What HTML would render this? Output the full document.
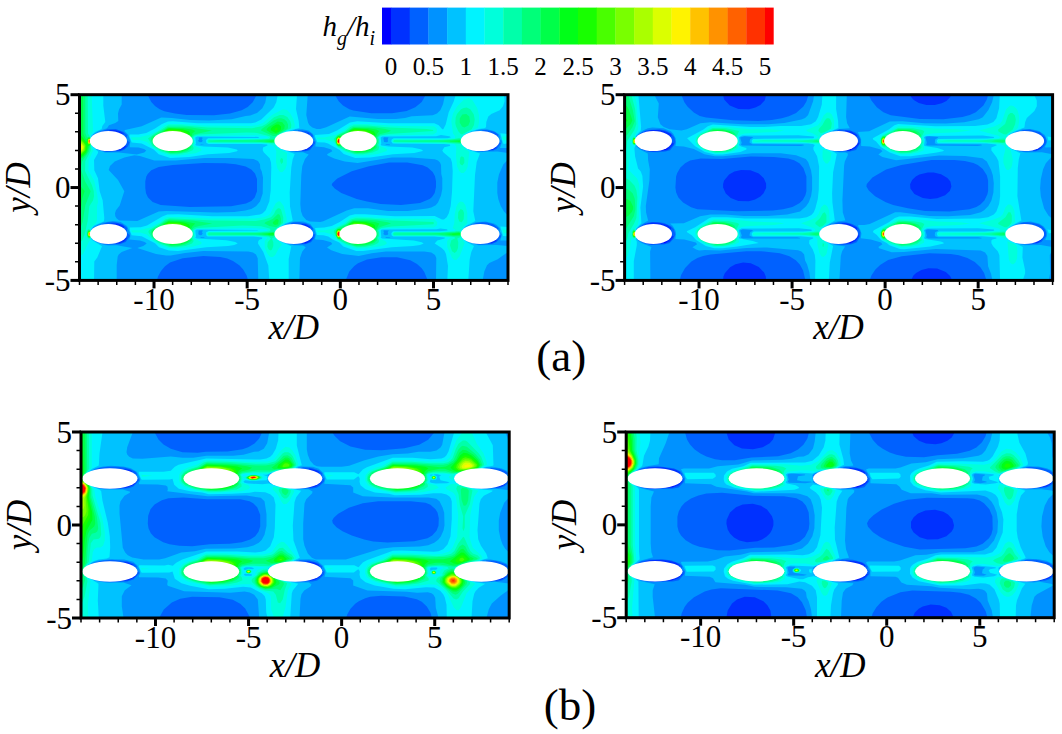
<!DOCTYPE html>
<html><head><meta charset="utf-8"><style>html,body{margin:0;padding:0;background:#fff;width:1062px;height:734px;overflow:hidden}svg{display:block}</style></head>
<body><svg width="1062" height="734" viewBox="0 0 1062 734" font-family="'Liberation Serif', serif">
<rect x="382.00" y="7.60" width="9.30" height="36.90" fill="#0000ff"/>
<rect x="391.00" y="7.60" width="19.00" height="36.90" fill="#0031ff"/>
<rect x="409.70" y="7.60" width="19.00" height="36.90" fill="#0061ff"/>
<rect x="428.40" y="7.60" width="19.00" height="36.90" fill="#0092ff"/>
<rect x="447.10" y="7.60" width="19.00" height="36.90" fill="#00c2ff"/>
<rect x="465.80" y="7.60" width="19.00" height="36.90" fill="#00f3ff"/>
<rect x="484.50" y="7.60" width="19.00" height="36.90" fill="#00ffdb"/>
<rect x="503.20" y="7.60" width="19.00" height="36.90" fill="#00ffaa"/>
<rect x="521.90" y="7.60" width="19.00" height="36.90" fill="#00ff79"/>
<rect x="540.60" y="7.60" width="19.00" height="36.90" fill="#00ff49"/>
<rect x="559.30" y="7.60" width="19.00" height="36.90" fill="#00ff18"/>
<rect x="578.00" y="7.60" width="19.00" height="36.90" fill="#18ff00"/>
<rect x="596.70" y="7.60" width="19.00" height="36.90" fill="#49ff00"/>
<rect x="615.40" y="7.60" width="19.00" height="36.90" fill="#79ff00"/>
<rect x="634.10" y="7.60" width="19.00" height="36.90" fill="#aaff00"/>
<rect x="652.80" y="7.60" width="19.00" height="36.90" fill="#dbff00"/>
<rect x="671.50" y="7.60" width="19.00" height="36.90" fill="#fff300"/>
<rect x="690.20" y="7.60" width="19.00" height="36.90" fill="#ffc200"/>
<rect x="708.90" y="7.60" width="19.00" height="36.90" fill="#ff9200"/>
<rect x="727.60" y="7.60" width="19.00" height="36.90" fill="#ff6100"/>
<rect x="746.30" y="7.60" width="19.00" height="36.90" fill="#ff3100"/>
<rect x="765.00" y="7.60" width="8.70" height="36.90" fill="#ff0000"/>
<text x="391.0" y="75" text-anchor="middle" font-size="25">0</text>
<text x="428.4" y="75" text-anchor="middle" font-size="25">0.5</text>
<text x="465.8" y="75" text-anchor="middle" font-size="25">1</text>
<text x="503.2" y="75" text-anchor="middle" font-size="25">1.5</text>
<text x="540.6" y="75" text-anchor="middle" font-size="25">2</text>
<text x="578.0" y="75" text-anchor="middle" font-size="25">2.5</text>
<text x="615.4" y="75" text-anchor="middle" font-size="25">3</text>
<text x="652.8" y="75" text-anchor="middle" font-size="25">3.5</text>
<text x="690.2" y="75" text-anchor="middle" font-size="25">4</text>
<text x="727.6" y="75" text-anchor="middle" font-size="25">4.5</text>
<text x="765.0" y="75" text-anchor="middle" font-size="25">5</text>
<text x="322.5" y="36.3" font-size="29" font-style="italic">h<tspan font-size="20" dy="9">g</tspan><tspan dy="-9">/h</tspan><tspan font-size="20" dy="9">i</tspan></text>
<rect x="79.50" y="94.70" width="428.50" height="185.70" fill="#0000ff"/>
<path fill-rule="evenodd" fill="#0031ff" d="M79.7 94.9 79.7 280.2 508.0 280.2 508.0 94.9ZM304.3 242.2 305.3 241.2 307.3 241.5 305.7 242.5Z"/>
<path fill-rule="evenodd" fill="#0061ff" d="M79.7 94.9 79.7 280.2 508.0 280.2 508.0 94.9ZM488.0 242.9 488.7 240.9 491.0 239.2 497.0 239.5 496.0 241.2 491.7 243.2ZM127.0 238.2 124.3 241.5 119.3 243.5 114.3 243.2 115.7 240.5 119.0 237.9 123.7 237.5ZM313.0 237.9 310.7 240.9 307.3 242.9 305.0 243.5 300.3 243.2 301.3 240.2 304.3 237.5 309.0 236.5ZM300.7 223.9 305.7 224.2 310.3 226.9 308.0 228.9 306.0 229.2ZM111.0 223.5 118.0 223.5 122.0 224.9 124.7 226.9 121.7 228.9 119.0 228.9 114.0 226.5ZM489.0 149.9 489.3 148.2 491.0 146.9 496.7 147.2 493.0 149.9ZM115.0 150.2 116.0 148.2 118.7 145.9 126.7 145.9 124.3 148.5 120.0 150.5ZM313.0 145.2 308.3 149.5 305.3 150.5 301.7 150.2 302.3 147.5 304.7 145.5 309.0 144.5ZM307.0 132.9 308.0 132.5 309.3 133.5 308.3 133.9ZM109.0 130.5 109.7 129.9 115.0 129.9 120.0 131.2 124.0 133.5 120.3 134.2Z"/>
<path fill-rule="evenodd" fill="#0092ff" d="M79.7 94.9 79.7 280.2 157.0 280.2 158.0 276.5 161.0 270.9 165.0 266.2 170.0 262.5 182.7 258.2 203.3 255.9 220.3 256.9 227.3 258.5 233.0 260.9 239.3 265.2 243.0 269.2 246.7 275.5 248.0 280.2 345.7 280.2 349.3 271.5 354.3 265.9 358.0 263.2 367.0 259.5 381.3 257.2 397.0 257.2 410.3 260.2 417.0 263.9 421.7 268.2 424.3 271.9 427.7 280.2 508.0 280.2 508.0 94.9 425.7 94.9 421.7 101.9 415.3 107.2 406.7 110.9 392.0 113.2 371.3 113.2 353.3 110.5 349.3 109.2 343.0 105.5 338.7 101.2 335.0 94.9 256.7 94.9 252.7 102.2 247.7 106.9 241.7 110.2 230.0 113.5 214.0 115.2 186.7 114.9 175.0 113.5 164.3 111.2 159.7 109.2 155.0 105.9 151.3 101.9 147.7 94.9ZM472.7 224.5 476.3 222.9 482.3 222.2 487.0 222.5 493.3 224.2 498.7 228.2 497.3 229.9 497.0 231.9 498.7 234.5 501.0 235.5 500.7 237.2 496.7 241.9 492.0 243.9 479.3 244.5 473.3 243.2 472.0 241.9 474.7 236.2 475.0 231.5ZM290.7 223.5 293.3 222.5 299.0 222.2 306.3 223.5 310.0 225.2 313.0 228.2 312.0 231.9 313.0 233.5 315.0 234.5 314.3 237.9 311.0 242.2 305.7 244.2 294.7 244.5 290.0 243.5 289.7 242.2 292.3 234.5 292.3 230.5ZM101.7 224.2 108.0 222.2 115.3 222.2 122.7 224.2 127.3 227.9 126.7 232.5 129.7 234.9 129.7 236.2 125.7 241.9 120.0 244.2 107.0 244.5 100.3 242.9 98.3 241.5 101.3 232.5ZM257.0 178.9 257.0 191.2 254.7 197.5 251.3 200.9 246.0 203.5 231.0 206.2 189.7 206.9 160.7 204.9 152.7 201.9 148.0 197.5 146.0 193.2 145.3 187.9 145.3 181.2 146.3 176.5 147.7 173.9 151.3 170.2 158.7 166.9 172.7 164.9 203.7 162.9 225.3 163.2 235.7 164.2 245.7 166.5 251.3 169.5 255.0 173.5ZM436.0 181.2 436.0 186.9 434.7 192.9 432.0 196.9 429.7 198.9 420.0 202.9 401.0 204.9 380.7 203.9 367.0 201.5 356.7 198.9 341.3 192.9 334.7 188.5 331.7 184.9 332.3 183.2 337.3 178.5 351.7 171.2 369.0 166.2 389.0 162.5 407.3 162.5 422.7 165.2 427.7 167.5 432.7 171.9 435.0 176.2ZM298.0 130.2 306.3 130.9 310.7 132.9 312.7 134.9 313.0 136.2 312.0 137.5 312.0 139.2 313.7 141.2 315.0 141.5 315.0 143.5 310.0 149.9 306.0 151.2 296.0 151.5 292.7 150.5 296.7 141.2ZM482.3 130.2 485.7 129.9 491.7 130.9 495.7 132.5 498.3 134.9 497.0 137.2 497.0 139.9 499.0 142.2 501.0 143.2 496.7 148.9 493.3 150.5 482.3 151.5 477.3 150.5 482.0 141.2ZM129.7 142.2 128.0 146.2 124.7 149.5 120.3 151.2 106.7 151.9 100.0 150.2 97.3 148.5 100.7 137.2 100.7 131.5 107.3 129.2 115.7 128.9 123.7 131.9 127.3 135.2 126.3 137.9 126.7 140.2Z"/>
<path fill-rule="evenodd" fill="#00c2ff" d="M79.7 94.9 79.7 280.2 116.7 280.2 116.7 264.9 117.7 256.5 118.7 254.5 121.7 251.9 132.3 247.9 116.7 245.2 108.7 245.5 104.3 244.9 96.0 241.9 91.7 238.2 91.7 229.2 93.3 227.2 98.3 224.2 103.0 222.5 112.7 220.9 120.7 221.9 127.0 225.9 130.3 233.5 130.3 236.9 129.3 239.5 140.0 240.5 144.7 241.9 146.7 243.5 143.3 245.9 137.3 247.9 156.0 253.9 166.0 255.5 170.7 255.5 185.0 252.9 203.3 250.9 248.3 251.5 253.0 252.5 256.0 254.5 257.7 258.2 258.3 280.2 299.3 280.2 300.0 257.9 302.3 251.5 305.7 247.2 303.0 245.5 293.7 245.2 288.7 244.2 282.0 241.5 279.7 239.5 282.3 236.9 284.0 233.5 285.3 224.5 289.7 222.5 295.0 221.5 303.3 221.5 310.3 223.9 314.3 229.2 316.0 234.5 315.0 238.9 315.7 239.5 323.0 239.9 331.0 242.2 332.3 243.9 327.0 247.5 331.3 250.2 342.3 253.9 358.7 255.9 371.7 253.2 386.0 251.5 424.3 251.5 431.3 252.5 435.0 254.9 436.3 257.9 436.0 280.2 482.7 280.2 484.3 271.5 487.0 265.2 489.3 262.9 497.7 259.2 508.0 251.9 508.0 245.9 497.0 244.9 478.3 245.2 469.3 242.5 464.0 238.5 466.7 235.2 466.3 231.9 464.0 228.9 467.0 225.9 475.7 222.2 485.7 221.5 494.0 223.5 496.7 224.9 499.3 227.5 500.3 229.5 500.0 231.5 502.0 234.5 500.3 240.5 508.0 240.5 508.0 215.5 504.0 211.5 500.7 205.9 498.3 198.9 497.3 192.9 497.3 182.5 499.0 174.2 503.3 164.5 508.0 159.5 508.0 152.9 497.3 151.5 477.7 151.9 470.0 149.5 466.3 146.9 471.7 139.9 475.7 130.5 481.3 129.2 487.0 129.2 494.0 130.9 499.0 134.2 500.3 136.9 500.0 139.2 501.7 140.5 502.0 141.9 500.0 147.9 508.0 147.9 508.0 94.9 445.0 94.9 443.0 104.2 440.3 110.2 437.0 113.5 432.7 115.2 411.7 116.2 405.0 117.9 396.0 118.9 377.7 118.9 349.7 116.5 326.3 127.2 320.3 128.9 316.7 128.9 312.3 127.5 309.3 124.9 308.0 122.5 306.3 114.9 307.7 94.9 266.7 94.9 265.3 102.5 262.3 108.2 257.0 112.9 250.3 115.5 245.7 115.9 231.7 119.2 209.0 120.5 190.0 119.9 171.7 117.9 161.3 117.5 141.7 126.2 125.0 129.9 124.3 130.9 128.0 134.5 130.3 140.9 129.7 147.2 138.7 147.5 144.0 148.9 146.3 150.5 144.3 152.5 136.7 154.5 118.7 152.5 105.0 152.5 96.3 149.2 92.7 145.5 91.7 136.2 93.3 134.2 98.3 131.2 107.0 128.2 109.0 125.2 115.3 122.9 118.3 120.9 118.0 113.5 119.0 109.5 121.7 104.5 121.7 94.9ZM385.3 237.2 389.3 236.9 390.7 237.5 386.0 237.9ZM200.3 237.2 203.7 236.9 205.0 237.5 201.0 237.9ZM198.7 230.5 202.3 230.2 203.0 230.9 201.7 231.9 202.7 233.2 201.7 234.9 200.0 235.2 198.3 234.2ZM384.0 230.2 389.0 230.5 387.7 231.9 388.3 233.9 387.3 234.9 385.0 235.2 383.3 233.9 384.0 232.2 383.3 230.9ZM108.7 169.9 110.0 165.9 114.7 161.5 124.3 157.5 134.3 155.2 140.0 155.9 154.3 160.5 175.7 160.5 204.7 157.9 231.3 157.9 253.3 158.9 258.0 160.9 260.0 164.2 260.3 168.5 261.7 171.2 263.0 177.5 262.7 193.5 260.0 201.5 256.0 206.2 251.3 208.9 245.3 210.5 234.3 211.9 216.3 212.5 166.3 210.9 158.7 211.5 137.3 220.9 119.3 220.5 116.7 218.5 115.3 216.2 115.0 213.2 116.0 210.2 119.7 205.5 124.3 191.2 118.0 179.9ZM385.3 144.5 386.0 143.9 390.3 144.5 389.3 145.2ZM200.3 144.5 201.0 143.9 204.7 144.5ZM383.3 137.9 384.3 137.2 388.7 137.5 387.7 138.9 388.0 141.5 387.0 142.2 384.0 141.9ZM198.7 137.5 201.3 137.2 203.0 137.9 201.7 138.9 202.7 140.5 202.0 141.9 199.7 142.2 198.0 140.9 199.0 139.2ZM284.0 148.2 290.3 139.2 293.0 130.5 295.3 129.5 302.3 129.2 308.7 130.5 313.0 133.9 316.0 141.9 315.3 146.5 324.0 147.2 331.3 149.5 332.3 151.2 327.0 154.2 327.7 155.5 334.3 158.5 344.7 161.5 357.7 162.9 392.0 157.5 411.0 157.5 434.7 159.2 438.0 160.5 440.0 162.5 441.0 164.9 441.3 173.9 442.3 178.2 442.3 188.9 441.0 195.5 438.0 202.5 435.7 205.2 431.3 207.5 427.0 208.5 407.7 210.9 388.0 210.9 368.0 208.2 354.3 208.2 346.7 210.5 323.3 221.2 320.3 221.9 310.0 221.5 306.3 219.9 302.7 215.9 301.0 211.2 300.3 203.9 301.3 174.9 302.3 165.9 305.0 158.9 308.7 154.5 303.0 152.2 294.7 152.2 288.0 150.9 284.3 149.2Z"/>
<path fill-rule="evenodd" fill="#00f3ff" d="M500.3 226.5 503.0 235.9 507.7 236.2 508.0 226.9ZM500.3 133.2 503.0 143.2 504.0 143.9 508.0 143.2 508.0 133.9ZM504.0 94.9 455.7 94.9 453.7 101.5 448.7 112.2 445.7 124.5 443.3 129.2 442.3 129.2 438.7 125.2 434.3 123.2 388.7 123.2 357.3 121.2 350.0 122.5 337.0 130.5 329.0 133.9 315.0 134.9 315.0 136.5 317.3 142.2 324.7 142.5 328.0 143.5 339.7 149.9 343.7 153.9 355.3 157.9 370.0 157.5 393.0 154.2 414.3 152.9 422.7 150.9 422.7 150.2 420.7 149.2 412.3 147.5 388.7 146.5 381.7 145.5 380.7 144.9 381.3 143.5 380.7 137.5 382.3 136.5 436.0 136.2 441.0 134.9 449.3 136.2 451.0 137.2 447.7 138.2 393.7 138.2 391.7 139.5 391.3 141.5 392.7 143.5 444.0 143.9 449.7 144.5 450.3 145.2 449.7 145.9 444.3 147.2 442.3 150.5 443.3 152.2 450.7 158.5 452.0 162.5 452.7 170.9 452.0 191.9 450.7 205.9 448.7 213.5 446.7 217.2 444.0 219.5 442.0 219.5 434.7 215.9 394.7 216.2 365.0 214.2 355.0 214.2 349.7 215.5 339.7 221.9 331.7 225.9 324.3 227.5 315.0 227.9 317.0 234.9 323.3 235.2 328.3 236.5 332.7 239.5 339.3 242.5 343.3 246.5 356.3 250.9 363.0 250.9 391.7 247.2 413.0 245.9 420.0 244.9 423.7 243.5 421.7 242.2 413.7 240.5 382.0 238.5 380.7 237.5 381.3 236.5 380.7 230.5 381.7 229.5 436.3 229.2 440.3 228.5 446.7 229.2 447.7 229.9 447.3 230.5 439.3 231.2 393.0 231.2 391.3 233.2 391.7 235.5 393.3 236.5 434.0 236.5 444.7 237.5 444.7 238.5 437.3 240.5 434.7 243.5 441.7 247.9 444.3 250.5 446.0 253.9 448.0 265.9 447.3 280.2 468.3 280.2 469.7 259.2 471.3 251.9 474.0 245.9 466.7 241.9 463.0 238.5 462.7 236.5 464.7 235.9 465.7 233.9 465.0 232.2 462.0 231.2 462.0 229.9 465.7 225.9 475.3 220.9 473.3 211.2 475.0 174.9 476.7 161.9 480.0 153.5 470.3 150.5 464.7 147.2 462.7 144.2 465.7 142.5 466.0 140.2 464.7 138.5 462.7 138.2 462.3 137.2 464.3 134.9 471.0 131.2 478.7 128.9 484.3 128.2 486.0 127.2 486.3 121.9 488.3 116.5 491.3 113.9 499.7 110.2 503.0 106.2 504.7 100.9ZM297.0 94.9 277.7 94.9 276.3 102.2 273.7 107.5 261.3 119.5 255.3 122.5 251.0 123.2 197.7 123.2 173.0 121.2 168.0 121.5 162.0 123.9 155.0 128.5 146.3 132.9 138.3 134.5 129.7 134.5 129.3 135.9 131.7 142.5 141.7 143.5 153.7 149.5 158.7 154.2 170.3 157.9 189.3 156.9 207.7 154.2 229.3 152.9 237.0 151.2 237.7 150.5 236.7 149.5 228.0 147.5 203.7 146.5 196.3 145.5 195.3 144.9 196.0 143.5 195.3 137.5 197.3 136.5 258.7 136.9 258.7 137.9 208.0 138.2 206.0 139.9 206.3 142.9 208.7 143.9 261.0 143.9 267.0 144.5 267.7 145.2 263.0 147.5 262.7 150.2 263.7 152.2 269.7 158.2 271.0 162.5 271.3 167.5 270.7 190.5 269.3 201.5 265.7 210.2 262.7 213.2 260.0 214.5 247.7 216.2 212.3 216.2 178.3 214.2 167.3 214.5 162.3 216.5 147.0 225.5 140.7 227.2 129.7 227.5 130.0 230.9 131.7 235.2 141.7 236.2 155.0 243.2 159.0 247.2 169.0 250.5 178.0 250.9 206.3 247.2 228.0 245.9 234.3 244.9 237.7 243.5 235.3 241.9 226.3 240.2 196.7 238.5 195.3 237.5 196.0 236.5 195.3 230.5 196.7 229.5 257.7 229.9 257.7 230.5 208.7 230.9 206.0 232.5 206.3 235.5 207.7 236.5 253.3 236.5 262.3 237.5 262.0 238.9 259.7 239.5 258.3 240.9 258.0 243.5 263.3 251.9 268.3 265.5 269.3 280.2 288.7 280.2 288.7 258.9 291.3 246.2 280.3 241.5 276.3 237.2 280.3 235.2 280.3 232.2 278.0 229.9 281.0 226.5 285.0 223.5 291.7 221.2 292.7 220.2 290.0 206.5 289.7 192.5 291.3 167.2 292.7 159.2 294.7 153.9 280.3 148.5 276.3 145.2 276.3 143.9 280.0 143.2 281.3 139.5 287.3 134.9 289.7 130.5 299.3 127.9 298.7 120.9 296.0 108.9ZM79.7 94.9 79.7 280.2 94.0 280.2 94.3 261.5 97.3 257.5 102.0 246.2 92.0 239.9 91.0 238.2 91.7 233.2 90.7 229.5 94.3 225.5 104.0 221.2 104.3 217.9 102.7 200.5 99.7 191.2 98.0 178.2 94.3 170.2 94.0 159.9 98.0 152.9 98.0 151.5 91.3 144.9 91.7 139.5 91.0 135.9 95.3 131.9 101.7 128.9 102.3 125.9 105.3 121.9 103.3 105.5 103.3 94.9Z"/>
<path fill-rule="evenodd" fill="#00ffdb" d="M502.3 229.5 503.7 233.2 508.0 232.9 508.0 229.5ZM317.0 231.2 318.0 232.2 324.3 232.2 332.3 234.5 337.3 240.2 346.3 245.2 356.7 248.5 367.0 248.2 380.3 246.2 384.7 244.9 387.0 243.2 385.3 240.9 381.3 239.5 379.0 237.9 380.0 236.2 379.3 230.2 380.3 229.2 385.7 228.2 434.0 227.5 437.0 225.2 437.3 222.2 434.0 218.9 390.7 218.5 356.7 216.5 350.3 217.9 344.3 222.9 334.7 227.9 325.3 230.2 317.3 230.5ZM465.3 204.9 463.0 201.9 460.3 201.5 458.0 203.5 456.3 206.9 454.7 214.2 454.3 222.9 452.7 228.2 455.0 229.5 454.3 230.9 442.0 231.9 394.0 231.9 392.3 233.5 392.7 235.2 393.7 235.9 435.7 235.9 449.7 237.2 450.3 237.9 447.7 239.9 447.0 241.9 447.3 247.2 452.0 257.9 454.3 259.9 456.3 259.9 459.7 256.2 464.7 242.9 461.7 238.2 461.7 236.5 464.7 234.9 464.7 233.2 462.0 232.2 461.0 230.2 462.3 227.9 467.3 222.9 467.3 212.9ZM286.7 218.5 283.7 205.9 280.3 201.5 278.7 201.2 275.7 203.2 270.3 213.5 268.0 215.5 263.7 217.2 255.3 218.5 208.0 218.5 184.7 216.9 167.7 216.9 165.0 217.9 160.3 221.9 151.0 227.2 139.0 230.2 131.7 230.2 131.3 231.2 132.7 232.5 140.0 232.5 146.7 234.5 153.0 240.5 160.0 244.9 169.7 248.2 176.7 248.5 191.7 246.9 200.7 244.2 201.7 243.2 201.3 241.9 193.7 237.9 194.7 236.2 194.0 230.2 196.3 228.9 252.7 227.9 266.0 229.2 268.0 230.2 266.7 230.9 255.0 231.9 208.3 231.9 207.3 232.5 207.0 234.5 208.3 235.9 255.0 235.9 266.7 237.2 267.3 237.9 264.7 240.9 264.7 247.2 266.7 252.5 268.7 255.5 270.7 256.9 273.0 256.9 275.3 254.9 278.7 248.5 281.7 244.9 281.7 243.9 275.7 238.2 275.7 236.2 279.0 235.5 279.7 233.2 278.3 231.9 276.0 231.9 275.3 230.2 286.7 221.5ZM502.3 136.5 502.3 138.2 503.7 140.5 508.0 140.2 508.0 136.5ZM317.0 138.5 317.7 139.2 325.3 139.5 332.0 141.5 334.7 143.5 337.7 147.5 346.0 152.2 356.0 155.5 364.7 155.5 378.0 153.9 386.7 150.9 387.0 149.5 386.0 148.5 379.7 145.9 379.0 144.9 380.0 143.2 379.3 137.2 380.7 136.2 384.0 135.5 433.3 134.5 436.7 132.2 437.0 129.5 436.3 127.9 434.0 126.2 398.3 125.9 367.0 123.9 354.0 123.9 350.0 125.2 344.0 130.2 335.0 134.9 324.3 137.5 317.3 137.5ZM294.7 123.9 293.3 118.9 290.0 112.9 287.0 109.9 282.7 109.2 272.0 114.9 263.0 122.9 257.0 125.2 251.3 125.9 203.3 125.5 181.7 123.9 168.7 123.9 164.7 125.2 158.0 130.5 150.3 134.5 139.3 137.2 131.3 137.2 131.3 138.5 132.7 139.9 140.3 139.9 147.0 141.9 152.3 147.2 161.3 152.5 170.3 155.5 179.3 155.5 195.7 153.2 201.7 150.5 200.7 148.5 193.7 145.2 194.7 143.2 194.0 137.2 197.0 135.9 257.0 135.2 266.7 136.5 268.0 137.2 267.7 137.9 260.3 138.9 209.0 138.9 207.3 139.9 207.0 141.5 208.0 142.9 262.7 143.2 267.7 143.5 272.0 144.9 274.7 146.9 276.3 151.2 276.0 161.9 277.3 168.2 280.0 171.9 282.3 172.2 285.3 168.9 286.7 164.9 287.0 152.9 277.7 148.2 275.3 146.2 275.3 143.5 276.0 142.9 278.7 142.9 280.0 141.5 279.0 138.9 276.0 138.9 275.7 137.9 277.0 136.2 281.7 134.9 285.3 131.5 294.7 127.5ZM477.3 108.2 472.7 100.5 468.7 97.9 464.0 99.5 457.0 106.5 453.0 113.5 451.3 120.9 453.0 133.5 455.3 136.5 454.7 138.2 441.7 139.2 396.3 138.9 393.3 139.2 392.3 140.9 392.7 142.2 395.7 143.2 427.3 142.9 454.3 143.9 456.3 146.5 456.0 155.9 457.0 166.2 459.3 171.2 461.3 172.9 463.7 172.9 466.0 170.5 467.7 166.5 469.3 151.9 461.7 145.2 462.0 143.2 464.0 142.9 465.0 141.9 465.0 140.2 464.0 139.2 462.0 139.2 461.3 137.2 466.0 132.9 478.0 127.5 479.0 122.5 479.0 114.9ZM91.7 94.9 79.7 94.9 79.7 256.2 83.0 254.2 88.7 242.2 90.3 240.2 91.3 235.2 90.3 228.2 96.0 222.9 97.0 220.2 97.0 205.9 98.0 202.2 97.3 194.9 94.3 180.9 88.3 170.2 88.7 160.2 93.3 150.2 91.0 145.2 91.3 139.5 90.3 137.2 90.3 135.5 93.0 130.9Z"/>
<path fill-rule="evenodd" fill="#00ffaa" d="M464.0 233.5 461.7 232.9 459.7 230.9 456.3 230.9 455.0 231.5 441.0 232.5 394.7 232.5 393.3 233.2 393.3 234.5 394.0 235.2 435.0 235.2 454.3 236.9 455.3 238.2 451.3 240.2 450.0 245.2 452.0 251.2 454.7 252.9 456.7 251.2 458.0 247.9 458.3 242.5 457.3 238.5 460.7 236.9 462.3 234.9 463.7 234.9ZM88.3 228.9 86.7 231.2 86.7 235.5 87.7 237.9 89.3 238.9 90.7 236.9 91.0 232.2 90.0 229.5ZM333.7 231.9 337.7 239.5 347.0 244.2 357.0 247.2 364.7 246.9 373.3 245.2 377.3 243.5 378.7 242.2 379.0 240.2 377.7 237.9 379.0 235.9 379.0 232.2 378.0 230.2 381.3 227.9 391.7 226.5 433.3 224.2 434.0 222.9 433.3 221.9 392.3 220.5 370.3 218.5 355.7 218.2 350.7 219.5 345.3 223.9 337.7 227.5 334.0 230.5ZM460.7 208.9 458.3 211.9 458.0 217.9 459.3 221.5 461.7 222.2 463.7 219.2 464.0 212.9 463.0 210.2ZM283.3 217.5 281.0 209.5 279.3 208.2 278.0 208.2 275.7 210.2 274.0 213.9 271.0 217.2 264.3 219.5 255.7 220.9 213.3 220.5 170.0 218.2 165.3 219.5 159.3 224.2 149.0 230.2 148.3 231.9 152.0 237.9 159.3 243.2 169.7 246.9 175.0 247.2 185.3 245.9 192.0 243.5 193.7 240.9 192.3 237.9 193.7 235.9 193.0 229.9 196.7 227.9 242.7 225.5 261.0 226.2 269.7 228.5 270.7 230.2 269.0 231.5 256.0 232.5 209.0 232.5 207.7 233.9 208.7 235.2 254.0 235.2 268.7 236.5 271.0 238.5 267.7 242.2 267.3 246.5 268.7 249.5 270.7 250.5 272.0 249.5 273.3 245.9 273.3 242.5 272.0 238.5 274.0 237.5 275.7 235.2 279.0 234.5 278.7 232.9 275.3 232.5 274.3 230.2 283.0 222.9ZM282.0 157.9 280.7 158.5 280.0 160.9 281.3 163.9 283.0 162.2 283.0 159.5ZM461.7 156.2 460.3 157.5 459.7 162.2 460.3 164.2 462.3 165.5 464.3 162.9 464.3 158.9 463.7 157.2ZM464.3 140.5 461.7 139.9 460.3 138.2 459.0 137.9 453.3 139.2 440.3 139.9 394.0 139.9 393.3 141.9 445.7 142.5 460.3 143.9 462.0 142.2 463.7 142.2ZM333.7 138.9 336.3 145.2 338.0 146.9 346.7 151.2 354.7 153.9 362.7 154.2 372.7 152.5 378.3 149.9 379.0 147.2 378.0 144.5 379.0 143.2 379.0 139.2 378.0 137.5 380.0 135.5 388.7 133.9 433.0 130.9 433.3 129.9 426.7 128.9 389.7 127.5 367.3 125.5 353.7 125.5 350.3 126.9 345.0 131.2 337.3 134.9ZM291.3 124.9 290.3 121.2 287.3 116.9 283.3 114.9 279.7 114.9 274.0 117.2 266.0 123.9 261.7 126.2 252.0 128.2 207.7 127.5 182.3 125.5 168.0 125.5 153.7 134.2 148.0 138.5 152.3 145.5 159.7 150.5 170.7 154.2 177.3 154.2 187.3 152.5 192.7 150.2 193.7 147.9 192.3 144.9 193.7 142.9 193.0 136.9 195.0 135.5 199.0 134.5 246.3 132.5 257.0 132.9 269.7 136.2 270.3 137.9 268.7 138.9 242.3 139.9 208.3 139.9 208.3 142.2 262.0 142.5 274.3 143.5 275.7 142.2 278.7 142.2 279.3 141.2 278.3 139.5 275.3 139.5 274.7 138.5 275.0 137.2 282.7 131.9 291.0 128.2ZM466.7 107.5 463.7 107.9 461.0 109.2 457.0 113.9 455.7 117.5 455.3 123.2 456.0 126.2 458.3 131.2 461.0 134.2 462.3 134.2 471.7 129.2 474.0 124.9 474.7 119.2 473.7 114.2 470.3 109.2ZM87.7 94.9 79.7 94.9 79.7 242.5 82.3 240.2 84.7 234.2 87.7 220.9 89.3 206.2 93.0 200.5 94.0 196.2 93.7 190.9 92.0 185.2 85.0 170.9 85.3 161.2 90.7 150.9 91.3 141.5 90.0 136.5 88.0 133.5Z"/>
<path fill-rule="evenodd" fill="#00ff79" d="M461.7 234.2 459.3 231.9 431.0 233.5 394.7 233.9 437.3 234.5 453.3 236.2 459.3 236.2ZM278.3 233.9 275.7 233.5 274.0 231.9 257.7 233.2 209.0 233.9 255.7 234.5 273.7 236.2 276.0 234.2ZM88.7 229.9 87.3 231.9 87.3 235.9 89.3 238.2 90.3 237.2 91.0 233.2 89.7 229.9ZM335.7 235.2 337.7 238.9 342.7 239.9 347.3 242.9 355.0 245.9 360.7 246.2 368.0 245.2 374.3 242.9 377.0 240.2 376.7 237.2 378.0 235.2 377.0 229.9 380.0 226.9 391.0 223.5 387.7 222.2 377.0 220.5 363.3 219.5 352.7 219.9 345.7 224.9 337.0 228.9 335.3 231.9ZM150.7 232.5 152.0 235.9 154.7 238.9 162.7 243.2 171.3 246.2 179.0 245.9 185.3 244.5 191.0 241.2 191.7 240.2 191.3 237.2 192.3 236.2 191.7 229.9 194.0 227.5 199.0 225.9 212.3 223.5 192.3 220.5 169.0 219.5 165.3 220.9 159.7 225.2 151.7 229.9ZM280.0 215.5 279.0 214.2 277.7 214.2 272.7 218.9 265.7 221.9 264.3 223.2 269.3 225.9 276.0 227.2 278.3 225.9 281.0 222.9 281.0 218.9ZM463.3 140.9 462.0 141.2 460.0 139.2 443.0 140.5 394.7 141.2 438.3 141.5 460.7 142.9 462.0 141.2ZM278.3 140.5 276.0 140.9 274.0 138.9 255.3 140.5 219.3 140.5 209.0 141.2 253.3 141.5 274.0 142.9 276.0 141.2 278.3 141.5ZM335.3 140.5 336.3 144.2 338.0 146.2 343.0 147.2 351.7 151.9 356.0 153.2 367.3 152.5 372.0 151.2 376.7 147.9 376.7 144.2 378.0 142.2 377.0 137.2 379.7 134.2 388.7 131.9 391.0 130.5 385.3 128.9 375.3 127.5 353.3 126.9 345.3 132.2 337.7 135.5 335.7 137.9ZM150.7 139.9 153.7 145.2 162.3 150.2 170.3 153.2 180.0 152.9 186.7 151.2 191.3 147.9 191.3 144.2 192.3 143.2 191.7 137.2 194.3 134.5 212.0 130.5 191.0 127.5 168.0 126.9 153.0 135.9 151.0 137.9ZM288.0 124.5 286.7 121.5 284.3 119.2 281.0 118.2 278.0 118.5 273.7 120.5 261.7 128.9 261.0 130.5 273.0 135.9 275.3 135.9 287.3 128.9 288.0 127.9ZM466.3 113.9 462.3 114.5 459.7 118.5 459.7 122.5 462.0 126.5 464.3 127.5 468.3 125.5 470.0 121.5 469.3 116.5ZM85.3 94.9 79.7 94.9 79.7 227.2 81.0 226.2 82.7 221.9 85.3 205.2 90.7 191.2 85.0 181.2 81.3 170.2 81.3 165.5 82.3 161.2 89.0 151.2 91.0 142.5 91.0 139.9 89.7 136.9 87.0 137.2 85.3 132.9Z"/>
<path fill-rule="evenodd" fill="#00ff49" d="M353.0 243.2 353.7 244.2 356.3 245.2 366.7 244.5 373.0 242.2 375.0 240.5 375.7 238.9 370.7 237.2 357.3 235.9 354.0 238.5ZM167.7 243.2 170.7 245.2 181.3 244.5 187.7 242.2 190.3 238.9 185.7 237.2 172.0 235.9 168.3 238.9ZM461.0 234.2 460.7 233.2 459.0 232.5 444.7 233.9 453.7 235.5 460.0 235.2ZM274.7 234.5 273.7 232.5 261.3 233.9 270.7 235.5 273.3 235.5ZM89.0 230.2 87.7 231.9 87.7 235.9 88.7 237.5 89.7 237.5 90.7 235.5 90.7 232.2ZM336.0 235.2 338.0 238.5 340.0 238.9 343.0 234.5 346.0 233.5 348.3 230.9 357.3 233.5 372.3 232.2 376.0 230.2 379.3 223.5 375.7 222.2 366.3 220.9 353.0 220.9 348.7 223.5 345.7 227.5 337.3 229.2 336.0 231.5ZM152.0 232.9 153.0 234.5 158.7 234.5 160.7 233.5 163.0 230.9 171.7 233.5 186.0 232.5 190.0 231.2 192.3 226.5 195.3 223.5 184.3 221.2 169.0 220.5 163.7 223.2 160.3 227.5 157.0 227.9 154.0 229.2 152.3 230.9ZM277.7 219.2 276.0 219.2 273.0 221.9 272.7 222.9 273.7 224.2 275.0 224.9 278.0 224.2 278.7 220.5ZM79.7 185.2 80.0 208.5 81.3 205.9 82.3 198.2 84.7 190.9ZM353.0 150.2 354.0 151.5 357.3 152.5 365.7 151.9 372.7 149.5 375.3 147.2 375.7 145.9 372.0 144.5 357.0 143.2 353.7 146.2ZM167.7 150.5 169.3 151.9 172.0 152.5 182.0 151.5 188.3 148.9 190.3 145.9 185.0 144.2 172.3 142.9 168.7 145.5 167.7 147.9ZM461.0 140.9 460.0 139.9 449.0 141.2 460.3 142.2ZM274.7 141.5 274.0 139.9 264.0 140.9 271.3 142.2ZM336.0 142.2 337.7 145.5 340.3 145.9 342.0 142.9 345.3 141.2 348.0 138.2 356.3 140.5 372.7 139.2 375.7 137.9 377.3 133.5 379.3 130.9 376.3 129.5 368.0 128.2 353.3 127.9 349.7 129.9 346.7 132.9 346.0 134.5 337.7 136.2 336.0 138.5ZM152.0 140.2 153.0 141.5 159.3 141.5 163.0 138.2 170.7 140.5 186.7 139.5 189.7 138.5 191.7 135.9 192.3 133.5 195.3 130.9 192.0 129.5 183.0 128.2 168.0 127.9 162.3 131.5 160.3 134.5 157.3 134.9 153.3 136.9ZM284.7 125.5 282.3 122.2 277.7 121.5 268.7 126.9 266.7 128.9 266.7 130.2 271.0 133.2 276.7 134.2 284.3 128.9ZM83.0 94.9 79.7 94.9 79.7 158.9 83.0 157.5 87.0 152.9 91.0 141.5 90.7 139.2 89.3 137.2 86.0 139.5 83.3 133.9Z"/>
<path fill-rule="evenodd" fill="#00ff18" d="M357.3 242.2 358.0 243.5 360.3 242.9 358.7 241.9ZM172.0 242.2 172.3 243.5 175.0 242.9 173.3 241.9ZM451.7 233.9 452.7 234.5 460.0 234.2 459.7 233.5ZM274.0 234.2 273.0 233.2 267.7 233.9 269.0 234.5ZM89.0 230.5 87.7 232.9 87.7 235.2 88.3 236.9 89.7 237.2 90.7 235.2 90.7 232.9ZM339.7 228.9 338.0 229.2 336.3 231.5 336.3 235.5 338.7 238.5 340.3 237.9 342.0 233.2 341.3 229.9ZM349.3 224.5 350.0 227.2 353.3 229.5 372.0 229.2 375.3 228.5 375.0 225.5 373.3 223.9 366.0 221.9 353.7 221.5 350.3 223.2ZM164.0 224.2 164.3 226.9 168.0 229.5 188.3 229.2 190.3 228.2 189.3 224.5 186.0 222.9 181.0 221.9 168.3 221.5ZM357.3 149.5 357.7 150.5 360.3 149.9 359.3 149.2ZM172.0 149.2 172.3 150.5 175.0 149.9ZM457.7 141.2 459.3 141.5 459.7 140.9ZM338.3 136.2 336.3 138.5 336.3 142.5 338.3 145.5 339.7 145.5 341.7 141.9 342.0 138.2 340.3 136.2ZM79.7 133.9 79.7 156.9 81.0 156.9 83.0 155.9 86.0 152.5 87.3 149.5 87.7 146.2 89.7 145.2 90.3 143.9 90.7 139.9 89.0 137.5 88.0 138.2 86.3 141.9ZM349.3 131.5 349.3 133.2 351.0 135.5 355.0 136.9 368.7 136.5 375.3 135.5 375.3 133.5 373.7 131.2 367.3 129.2 354.7 128.5 351.0 129.9ZM164.0 131.5 164.7 134.5 166.7 136.2 169.3 136.9 186.0 136.5 190.3 135.5 190.0 132.9 188.7 131.2 182.3 129.2 169.3 128.5 165.7 129.9ZM278.7 124.5 276.3 124.5 272.7 126.5 271.0 128.2 270.7 130.2 275.7 132.9 279.3 131.5 281.0 129.2 281.0 126.5Z"/>
<path fill-rule="evenodd" fill="#18ff00" d="M89.0 230.9 88.0 232.2 88.0 235.5 88.7 236.9 89.7 236.9 90.7 233.5ZM340.0 229.5 337.7 229.9 336.3 232.5 336.7 235.9 339.0 238.2 340.3 237.2 341.3 234.2 341.3 231.9ZM351.0 224.2 351.7 226.5 353.3 227.5 373.0 226.9 372.7 225.5 371.3 224.5 364.3 222.5 354.3 222.2ZM165.7 223.9 165.7 225.5 168.0 227.5 183.3 227.5 188.0 226.9 186.3 224.5 179.3 222.5 169.0 222.2ZM89.3 137.9 88.0 138.9 87.3 140.9 88.3 144.9 90.0 144.2 90.7 140.2ZM79.7 137.9 79.7 155.5 83.0 154.5 85.0 152.5 86.3 149.9 86.7 145.9 84.0 140.5 81.3 138.2ZM338.7 136.5 336.7 138.5 336.3 141.5 337.0 143.9 339.3 145.2 341.0 142.9 341.3 139.2 340.7 137.5ZM351.0 131.2 351.3 133.2 354.0 134.9 373.0 134.2 373.0 133.2 369.7 130.9 363.3 129.5 353.3 129.5ZM165.7 131.2 166.0 133.2 168.3 134.9 188.0 134.2 187.7 132.9 185.3 131.2 178.3 129.5 168.0 129.5ZM277.0 127.5 275.0 128.5 275.0 129.9 276.0 130.5 277.7 129.5Z"/>
<path fill-rule="evenodd" fill="#49ff00" d="M89.0 231.2 88.0 232.9 88.0 235.2 88.7 236.5 89.7 236.5 90.3 232.5ZM339.7 229.9 337.7 230.2 336.7 232.2 337.0 236.2 338.7 237.9 340.0 237.2 341.0 234.5 341.0 232.2ZM352.7 224.2 353.7 225.5 355.3 225.9 368.0 224.9 361.7 223.2 354.0 223.2ZM167.3 224.2 167.7 225.2 169.7 225.9 183.3 225.2 180.7 223.9 176.7 223.2 168.7 223.2ZM79.7 139.5 79.7 154.2 81.3 154.2 85.3 150.2 85.7 145.2 82.3 140.5ZM89.3 138.2 87.7 140.2 87.7 142.9 88.7 144.5 90.3 142.9 90.3 139.5ZM338.7 136.9 336.7 139.2 336.7 142.2 337.3 143.9 339.3 144.9 341.0 141.9 341.0 139.2ZM352.7 131.2 354.0 132.9 368.0 132.2 366.3 131.2 360.0 130.2 355.3 130.2ZM167.3 131.2 168.7 132.9 183.3 132.2 180.0 130.9 169.7 130.2Z"/>
<path fill-rule="evenodd" fill="#79ff00" d="M89.0 231.5 88.0 234.2 89.3 236.5 90.3 234.9 90.3 232.9ZM338.3 230.2 337.0 231.9 336.7 234.5 337.3 236.5 339.0 237.5 340.7 235.2 340.7 231.9 339.3 230.2ZM80.0 140.9 79.7 153.2 81.3 153.2 84.3 150.5 85.0 145.9 84.0 143.5 82.0 141.5ZM89.0 138.5 88.0 139.9 88.0 143.2 89.3 144.2 90.3 142.5 90.3 139.9ZM338.7 137.2 337.0 138.9 336.7 141.5 337.3 143.5 339.3 144.5 340.7 142.2 340.7 139.2Z"/>
<path fill-rule="evenodd" fill="#aaff00" d="M89.7 231.9 88.3 232.9 89.0 236.2 90.3 234.5ZM338.3 230.5 337.0 232.2 337.0 235.2 339.0 237.2 340.3 235.5 340.7 233.2 340.0 231.2ZM79.7 142.2 79.7 152.2 81.0 152.2 83.3 150.5 84.3 146.5 81.7 142.5ZM88.7 138.9 88.0 142.5 89.3 143.9 90.3 142.2 90.3 140.2 89.7 138.9ZM338.3 137.5 337.0 139.5 337.0 142.5 337.7 143.9 339.3 144.2 340.3 142.9 340.7 140.2 340.0 138.2Z"/>
<path fill-rule="evenodd" fill="#dbff00" d="M89.0 232.2 88.3 234.9 89.7 235.9 90.0 232.9ZM338.0 230.9 337.0 234.5 337.3 235.9 339.3 236.9 340.3 234.9 340.3 232.5 339.3 230.9ZM79.7 143.5 79.7 151.2 81.0 151.2 83.3 148.5 83.3 146.2 81.7 143.9ZM89.3 138.9 88.3 139.9 88.3 142.9 89.0 143.5 90.3 141.5ZM339.3 137.9 338.3 137.9 337.0 139.9 337.3 142.9 338.7 144.2 340.3 142.2 340.3 139.5Z"/>
<path fill-rule="evenodd" fill="#fff300" d="M89.0 232.2 88.7 235.2 89.3 235.9 90.0 233.2ZM339.0 230.9 337.3 232.2 338.0 236.5 339.3 236.5 340.3 234.2 340.0 231.9ZM80.0 144.5 79.7 149.9 81.0 149.9 82.3 148.2 82.3 146.2ZM89.0 139.2 88.3 142.5 89.7 143.2 90.0 139.9ZM338.3 138.2 337.3 139.5 337.3 142.5 339.0 143.9 340.3 140.5 339.7 138.5Z"/>
<path fill-rule="evenodd" fill="#ffc200" d="M89.0 232.5 88.7 234.9 89.3 235.5 90.0 233.5ZM338.3 231.2 337.3 232.5 337.3 234.9 339.0 236.5 340.0 235.2 340.0 232.5ZM79.7 146.5 79.7 147.9 80.7 147.9 80.7 146.9ZM89.0 139.5 88.3 141.9 88.7 142.9 89.7 142.9 90.0 140.2ZM338.7 138.2 337.3 139.9 337.3 142.2 338.3 143.5 340.0 142.2 340.0 139.5Z"/>
<path fill-rule="evenodd" fill="#ff9200" d="M89.0 232.9 88.7 234.5 89.3 235.2 89.7 233.2ZM338.3 231.5 337.3 234.2 337.7 235.5 339.0 236.2 340.0 233.2ZM89.7 139.9 88.7 140.2 89.0 142.9 90.0 141.5ZM338.3 138.5 337.3 141.5 338.3 143.2 339.3 143.2 340.0 140.2Z"/>
<path fill-rule="evenodd" fill="#ff6100" d="M89.0 233.2 89.3 234.9 89.7 233.5ZM338.7 231.5 337.7 232.5 337.7 235.2 338.3 235.9 339.7 235.2 339.7 232.5ZM89.0 139.9 88.7 141.9 89.3 142.5 89.7 140.2ZM338.3 138.9 337.7 142.2 339.0 143.2 339.7 139.5Z"/>
<path fill-rule="evenodd" fill="#ff3100" d="M339.0 231.9 337.7 232.9 337.7 234.5 338.7 235.9 339.7 234.5ZM89.0 140.2 89.3 142.2 89.7 140.5ZM338.3 139.2 337.7 141.9 339.0 142.9 339.7 140.2Z"/>
<path fill-rule="evenodd" fill="#ff0000" d="M338.3 232.2 337.7 233.9 338.0 235.2 339.0 235.5 339.7 233.9 339.3 232.5ZM338.7 139.2 337.7 140.9 338.3 142.5 339.7 141.2Z"/>
<ellipse cx="108.4" cy="141.1" rx="18.6" ry="10.0" fill="#fff"/>
<ellipse cx="172.7" cy="141.1" rx="20.1" ry="10.0" fill="#fff"/>
<ellipse cx="293.8" cy="141.1" rx="19.4" ry="10.0" fill="#fff"/>
<ellipse cx="358.0" cy="141.1" rx="18.6" ry="10.0" fill="#fff"/>
<ellipse cx="480.1" cy="141.1" rx="19.4" ry="10.0" fill="#fff"/>
<ellipse cx="108.4" cy="234.0" rx="18.6" ry="10.0" fill="#fff"/>
<ellipse cx="172.7" cy="234.0" rx="20.1" ry="10.0" fill="#fff"/>
<ellipse cx="293.8" cy="234.0" rx="19.4" ry="10.0" fill="#fff"/>
<ellipse cx="358.0" cy="234.0" rx="18.6" ry="10.0" fill="#fff"/>
<ellipse cx="480.1" cy="234.0" rx="19.4" ry="10.0" fill="#fff"/>
<rect x="624.60" y="94.70" width="428.00" height="185.70" fill="#0000ff"/>
<path fill-rule="evenodd" fill="#0031ff" d="M624.8 94.9 624.8 280.2 1052.4 280.2 1052.4 94.9ZM663.4 242.5 664.4 240.9 667.8 241.2 664.8 242.9ZM848.4 242.5 849.8 240.5 853.8 240.9 850.1 242.9ZM848.8 149.5 850.1 147.9 853.4 148.2 850.4 149.9ZM663.1 149.5 664.4 147.9 668.1 148.2 665.4 149.9Z"/>
<path fill-rule="evenodd" fill="#0061ff" d="M624.8 94.9 624.8 280.2 723.1 280.2 723.4 276.5 724.8 273.2 730.1 267.2 735.4 264.2 743.1 262.5 750.8 263.2 758.8 266.9 764.1 272.5 765.8 276.5 766.1 280.2 911.1 280.2 913.4 275.5 916.1 272.9 921.4 269.9 928.4 268.2 937.1 268.5 945.8 271.9 950.1 275.9 952.1 280.2 1052.4 280.2 1052.4 94.9 951.1 94.9 950.1 97.2 946.4 100.9 941.8 103.2 934.8 104.9 926.4 104.9 918.8 102.9 913.8 99.9 911.1 96.9 910.4 94.9 766.1 94.9 764.8 100.2 760.4 104.9 755.4 107.5 749.1 109.2 738.4 108.9 729.8 105.5 724.1 99.5 723.1 94.9ZM1042.4 239.2 1038.4 242.5 1036.4 243.2 1032.8 242.9 1033.4 240.9 1035.4 239.2ZM841.4 223.2 844.8 222.9 850.1 223.9 856.8 227.5 857.4 228.5 855.8 230.5 855.8 233.2 858.8 235.2 859.1 236.5 855.8 240.9 850.4 243.5 840.8 243.5 845.8 234.5 845.4 231.5ZM644.4 224.9 647.8 223.2 652.8 222.5 660.1 222.9 667.4 224.9 671.4 227.9 669.4 230.5 669.4 233.9 673.8 236.5 670.1 241.2 665.1 243.5 651.8 244.2 644.8 242.5 643.8 241.5 643.1 234.2 644.4 230.5ZM910.1 184.2 912.1 179.9 915.8 176.5 919.4 174.5 927.8 172.5 933.8 172.5 941.1 174.2 947.4 177.9 950.4 181.5 951.4 186.5 949.8 190.9 945.1 195.2 937.1 198.2 930.1 198.9 922.8 197.9 914.4 193.9 910.4 188.5ZM724.1 180.5 729.1 174.5 734.4 171.5 741.1 169.9 750.4 170.2 758.8 173.5 763.8 178.2 766.1 183.5 766.1 187.9 763.4 193.5 760.4 196.5 755.1 199.5 748.8 201.2 738.4 200.9 730.8 197.9 725.8 193.5 723.1 187.5 723.1 183.9ZM1032.8 149.9 1033.1 148.2 1035.8 146.2 1042.1 146.5 1038.8 149.5 1035.8 150.5 1033.4 150.5ZM845.1 130.5 851.4 131.5 857.1 135.2 855.4 137.5 855.1 139.5 856.8 141.9 859.1 142.9 859.1 143.9 855.1 148.5 849.4 150.9 845.4 150.9 844.4 150.2 845.8 146.9 849.4 141.9 848.8 137.9 845.1 131.9ZM638.1 141.2 642.8 137.5 644.1 131.9 651.1 129.9 658.4 129.9 664.1 130.9 670.1 133.5 671.8 135.2 669.8 137.5 669.8 140.2 671.4 142.2 673.4 142.9 673.8 143.9 669.4 148.9 666.8 150.2 653.1 151.5 645.4 150.2 641.1 148.2 639.4 146.9Z"/>
<path fill-rule="evenodd" fill="#0092ff" d="M624.8 94.9 624.8 280.2 679.8 280.2 681.1 274.9 685.1 267.9 691.4 261.5 697.4 257.9 703.1 255.9 710.4 254.5 746.4 251.2 761.1 251.2 779.8 253.2 789.4 256.2 795.8 260.2 799.8 264.5 803.1 270.5 805.4 280.2 869.8 280.2 871.4 275.5 875.4 269.5 880.1 264.9 888.1 259.9 901.8 256.2 929.4 253.2 950.8 253.9 958.8 255.2 967.4 257.9 974.8 261.9 980.4 267.2 984.1 272.9 986.4 280.2 1052.4 280.2 1052.4 94.9 988.1 94.9 986.8 99.5 983.4 105.5 975.8 112.2 969.8 114.9 962.4 116.9 943.4 119.2 919.8 118.9 890.8 115.2 883.4 112.2 876.8 107.2 871.4 100.5 868.8 94.9 808.4 94.9 806.4 101.5 803.4 106.5 796.1 112.9 788.8 116.2 781.8 118.2 771.8 119.9 758.4 120.9 733.1 120.2 706.1 117.5 699.8 115.9 693.8 112.5 687.4 106.5 684.4 102.2 681.4 94.9ZM1019.1 223.9 1023.1 222.5 1027.8 222.2 1033.8 222.9 1039.1 224.5 1042.4 226.5 1044.8 229.2 1046.1 232.2 1046.1 235.9 1041.4 241.9 1037.8 243.5 1028.8 244.5 1020.4 243.5 1019.8 241.9 1021.1 236.2 1021.1 231.5ZM832.8 224.2 838.4 222.2 846.1 222.2 852.4 223.9 856.1 225.9 858.8 228.5 860.4 232.2 860.1 236.5 856.8 242.2 851.8 244.2 843.8 244.9 837.1 244.5 832.4 243.2 831.8 241.9 833.8 234.5ZM637.4 231.2 639.1 227.5 644.4 223.5 651.1 221.9 658.1 221.9 664.1 222.9 670.8 225.9 673.8 228.9 675.4 234.5 673.8 238.5 669.4 243.2 663.8 244.5 650.8 244.9 644.1 243.2 637.1 238.5ZM988.1 180.5 988.1 190.9 987.4 194.2 984.4 200.5 980.4 204.5 976.4 206.9 969.4 209.2 949.4 211.5 925.1 210.9 907.8 208.2 893.1 204.9 885.8 202.2 875.1 196.2 868.8 190.5 866.4 186.5 866.8 183.9 872.4 177.5 886.1 169.5 901.4 164.9 931.4 159.9 954.4 159.9 964.8 160.9 973.4 162.9 977.8 164.9 982.8 168.9 986.8 175.2ZM806.4 176.5 806.4 191.2 805.4 195.2 802.8 199.9 799.4 203.2 792.4 206.9 783.1 209.2 772.8 210.5 737.1 211.2 697.4 209.2 691.1 207.2 683.1 202.5 678.4 197.5 676.1 192.2 675.4 187.5 676.1 176.5 677.1 173.2 680.4 167.5 685.1 163.2 690.1 160.5 700.8 158.5 721.8 158.9 750.8 156.5 773.8 156.9 788.1 158.5 794.1 160.2 799.4 163.2 803.4 167.9ZM1021.1 130.9 1023.4 129.9 1029.4 129.5 1040.1 132.2 1045.4 137.5 1046.4 141.2 1045.4 144.5 1041.1 149.2 1035.8 151.2 1023.8 151.5 1018.4 150.2 1017.8 149.5 1021.4 141.2ZM837.4 130.2 839.8 129.5 849.8 130.2 855.4 132.5 858.1 134.9 860.4 139.5 860.4 142.9 856.1 149.9 850.1 151.5 838.1 151.5 834.8 150.2 837.4 140.2 836.8 131.5ZM636.8 136.5 640.1 133.2 646.8 129.9 659.4 129.2 665.8 130.5 671.1 133.2 674.4 137.2 675.4 141.9 674.1 145.2 670.1 150.2 665.4 151.5 657.8 152.2 649.1 151.9 641.8 149.5 637.1 146.2 636.4 145.2Z"/>
<path fill-rule="evenodd" fill="#00c2ff" d="M1051.1 94.9 993.8 94.9 992.1 102.2 988.4 109.9 982.8 117.2 978.8 119.2 964.4 122.2 945.8 123.5 924.4 123.2 902.4 121.2 889.8 121.5 869.1 131.2 857.8 131.9 861.1 138.9 861.1 145.9 869.8 146.5 880.8 149.5 882.4 151.2 878.4 154.5 882.4 156.9 896.1 160.2 939.1 155.5 965.1 155.9 982.4 158.2 986.8 161.5 991.1 169.9 992.8 175.2 993.8 183.2 993.4 192.5 991.4 200.5 988.4 205.9 984.1 210.2 980.8 212.2 970.4 214.9 948.1 216.2 929.4 215.9 900.4 212.2 895.1 212.2 869.8 223.9 864.4 224.9 858.4 224.9 858.1 225.9 860.4 229.9 861.4 233.5 860.8 238.2 870.8 239.5 881.1 242.5 882.4 244.2 878.4 246.9 879.1 248.2 891.8 252.2 903.8 251.9 935.8 248.9 980.8 250.5 985.1 252.5 987.4 255.9 988.1 266.2 991.1 273.9 992.4 280.2 1048.8 280.2 1050.1 273.5 1049.8 254.9 1052.4 249.9 1052.4 246.9 1040.8 244.9 1024.8 245.2 1020.8 244.5 1011.1 240.5 1008.1 237.5 1010.1 236.9 1011.4 234.9 1010.8 230.2 1014.1 224.9 1020.8 222.2 1030.8 221.5 1039.1 223.5 1043.8 226.5 1045.8 229.2 1047.1 232.9 1046.8 236.5 1045.1 239.9 1052.4 240.2 1052.4 218.9 1048.4 215.5 1044.1 208.5 1040.8 196.2 1040.1 188.2 1040.8 179.2 1043.1 169.2 1045.8 163.2 1052.4 155.9 1052.4 154.2 1041.8 152.2 1026.1 152.5 1019.4 151.5 1012.1 148.5 1008.1 144.9 1011.1 142.5 1011.1 137.5 1015.1 131.9 1022.4 129.2 1030.8 128.9 1039.1 130.9 1044.8 134.9 1047.1 140.2 1047.1 142.5 1045.1 146.5 1045.4 147.5 1052.4 147.2 1052.4 123.2 1051.4 120.5 1052.4 103.2ZM925.4 230.2 927.8 229.2 938.1 229.9 937.8 230.9 935.1 232.2 934.8 234.9 935.1 236.2 938.1 237.2 978.1 237.2 982.1 237.9 980.8 238.5 928.1 238.5 926.1 237.5 926.8 235.5ZM925.4 137.5 926.8 136.5 929.4 136.2 937.8 136.9 938.4 137.5 935.1 139.5 934.8 143.2 937.4 144.2 981.1 144.5 982.1 145.2 977.8 145.9 927.4 145.5 926.1 144.9 926.8 142.5ZM624.8 94.9 624.8 280.2 650.4 280.2 650.1 251.5 651.4 246.9 641.4 242.9 638.4 240.9 636.1 237.9 636.8 234.9 636.4 228.9 640.8 224.9 648.1 220.5 646.1 212.5 645.8 205.9 649.4 180.5 649.8 169.2 648.1 160.2 647.8 153.5 639.4 149.2 636.4 146.5 636.1 136.2 643.4 130.2 647.8 128.2 652.4 127.5 663.4 128.2 670.8 131.2 673.4 133.9 675.8 138.5 676.1 143.2 675.4 145.9 683.8 146.5 693.8 148.9 704.4 154.2 714.8 156.2 723.1 156.2 752.4 153.2 780.8 153.2 796.1 155.2 805.8 158.9 808.1 161.9 811.1 170.5 812.1 177.2 812.1 189.2 811.1 195.9 808.8 202.2 806.1 206.2 800.1 211.5 787.1 214.5 767.4 215.9 743.8 215.9 725.1 214.5 710.4 214.5 700.1 216.2 683.8 223.2 670.1 223.5 672.8 225.9 675.4 230.5 676.1 232.9 675.4 238.9 684.4 239.5 695.8 242.5 697.1 244.2 692.4 247.2 696.1 249.5 699.1 250.5 704.8 249.9 720.1 250.5 746.4 247.9 766.8 247.5 798.1 250.2 801.4 251.5 804.1 254.2 805.1 260.5 807.1 264.5 809.4 272.5 810.4 280.2 839.4 280.2 840.8 255.9 842.1 251.2 845.1 246.5 834.8 244.9 827.4 241.5 826.4 229.5 827.8 225.5 831.4 223.2 837.4 221.5 845.4 220.5 842.8 212.5 842.4 200.5 844.1 165.5 844.8 161.5 847.8 155.2 847.8 153.5 845.4 152.5 839.8 152.5 832.4 150.9 829.4 149.5 827.4 147.5 826.1 147.9 823.8 146.9 821.8 144.5 825.1 144.2 826.4 142.9 827.1 139.9 830.4 136.5 833.4 130.5 839.1 128.9 849.8 128.2 847.1 123.2 846.1 116.9 846.8 94.9 814.1 94.9 813.1 101.2 808.1 114.9 805.1 117.9 801.4 119.5 784.4 122.9 768.4 124.2 742.1 124.2 710.4 122.2 700.4 123.2 686.8 129.2 681.4 130.5 669.4 129.2 663.8 126.9 660.4 124.2 657.8 117.2 658.8 103.5 654.4 94.9ZM740.1 230.5 742.8 229.2 752.8 229.9 752.4 230.9 750.1 232.2 749.4 235.5 753.1 237.2 797.1 237.2 800.4 237.9 799.4 238.5 743.1 238.5 740.8 237.5 741.8 235.5ZM740.1 137.5 744.4 136.2 752.4 136.9 753.1 137.5 750.1 139.2 749.4 142.5 752.4 144.2 803.1 144.5 804.1 145.2 801.1 145.9 742.1 145.5 740.8 144.5 741.8 142.9Z"/>
<path fill-rule="evenodd" fill="#00f3ff" d="M1047.4 229.5 1048.8 233.5 1052.4 232.5 1052.4 230.2ZM1047.4 136.5 1048.4 140.5 1052.4 139.9 1052.1 137.2ZM1034.8 96.2 1033.4 94.9 999.8 94.9 999.1 108.2 996.4 118.2 993.4 121.9 987.4 124.5 975.1 125.9 935.4 126.2 898.1 123.9 894.4 125.2 888.8 129.5 872.8 138.2 873.1 139.5 876.1 141.5 880.8 146.9 889.8 152.5 900.4 156.2 910.8 156.2 936.8 152.5 942.8 151.2 944.1 150.2 937.4 147.9 924.8 145.9 924.1 145.2 924.8 139.5 923.8 137.2 925.8 135.9 982.8 135.5 994.1 136.9 993.8 137.9 987.4 138.5 938.1 138.9 936.8 140.5 936.8 141.9 938.1 143.2 986.8 143.5 996.1 144.5 996.8 145.2 991.4 147.5 991.4 150.5 996.4 156.9 998.4 160.9 1000.1 176.2 1000.1 196.2 999.1 203.9 996.4 211.5 993.8 214.5 988.1 217.2 979.4 218.5 936.8 218.9 910.1 216.5 899.1 216.5 894.8 217.9 888.4 222.5 873.8 230.2 872.8 231.9 876.8 234.9 881.4 240.2 886.8 242.9 889.4 245.2 899.8 248.9 904.1 249.2 930.4 246.5 943.8 243.5 943.4 242.5 940.8 241.5 925.1 238.9 924.1 237.9 924.8 236.5 924.8 232.2 923.8 230.2 926.8 228.5 977.8 228.2 993.8 229.5 994.4 230.2 993.1 230.9 984.4 231.5 939.1 231.5 937.1 232.5 937.1 235.2 938.4 236.2 981.8 236.2 996.4 237.5 996.4 238.5 992.4 239.5 991.4 240.5 991.4 243.2 993.1 246.2 997.8 251.2 999.4 255.2 1000.1 280.2 1022.8 280.2 1025.1 273.5 1025.1 270.2 1022.4 257.5 1022.8 246.9 1009.1 240.2 1006.8 237.5 1006.8 236.5 1009.4 235.5 1010.1 233.5 1008.8 231.9 1006.4 231.2 1006.8 229.9 1011.1 225.9 1021.4 220.5 1017.4 196.2 1017.8 167.9 1018.8 159.2 1020.4 153.2 1011.8 149.2 1007.1 145.2 1006.8 143.5 1009.1 142.9 1010.1 140.9 1009.1 139.2 1007.1 138.9 1006.4 137.9 1009.1 134.5 1013.1 131.9 1024.4 127.5 1025.1 122.2 1026.8 117.9 1034.4 110.9 1036.8 106.2 1036.8 100.5ZM836.1 94.9 822.4 94.9 821.8 104.5 818.1 116.9 815.8 121.2 811.1 124.2 801.1 125.9 780.4 125.9 764.4 126.9 750.4 126.9 712.8 124.5 707.8 126.2 703.4 129.5 687.1 138.2 695.1 146.2 704.8 151.9 714.8 154.5 722.8 154.5 740.4 151.9 746.4 149.5 746.4 147.9 741.1 146.5 738.8 144.9 739.8 143.2 738.8 137.2 742.1 135.5 798.4 135.2 813.8 136.5 814.1 137.5 813.1 138.2 753.1 138.9 751.8 140.2 751.8 142.2 752.8 143.2 808.4 143.5 812.8 143.9 814.8 144.9 813.4 147.2 813.4 149.5 817.1 156.2 819.1 166.5 818.8 189.5 817.8 198.9 815.4 208.2 813.8 212.2 811.4 214.9 806.8 217.2 799.4 218.5 744.8 218.5 727.1 217.2 711.8 217.2 709.1 218.2 695.1 227.2 686.8 231.2 687.1 232.2 692.1 235.5 696.1 239.9 705.8 245.9 714.4 248.2 722.4 248.2 737.4 246.5 758.8 242.9 752.8 240.9 739.4 238.5 738.8 237.5 739.8 236.2 738.8 229.9 741.4 228.5 798.8 228.2 811.1 229.5 812.1 230.2 810.8 230.9 802.8 231.5 753.8 231.5 751.8 232.9 751.8 235.2 753.1 236.2 800.4 236.2 813.1 237.5 813.1 238.5 809.4 239.9 809.1 243.5 812.8 249.5 814.8 254.9 815.4 260.5 815.1 279.9 828.8 280.2 829.8 262.5 833.1 245.9 824.4 240.5 821.4 237.9 821.4 236.5 823.4 236.5 824.8 235.5 825.1 233.2 823.4 231.5 820.8 231.5 820.4 230.5 824.8 226.2 834.8 220.5 832.4 202.5 832.1 193.2 833.1 172.2 836.8 153.9 834.4 152.2 822.8 147.2 820.8 145.2 820.4 143.5 821.1 142.9 823.8 142.9 824.8 141.9 824.8 140.2 823.8 139.2 820.8 139.2 820.1 137.5 823.4 134.2 838.4 127.9 838.1 120.9 836.1 108.9ZM624.8 94.9 624.8 280.2 633.8 280.2 633.8 261.2 636.8 245.2 636.8 241.5 635.8 239.5 636.4 235.2 635.8 228.9 641.4 222.9 640.4 207.5 643.1 186.5 642.4 175.9 640.8 171.5 638.1 168.5 635.1 156.5 634.4 148.2 636.1 143.2 635.4 136.2 640.8 130.5 641.1 126.5 638.4 94.9Z"/>
<path fill-rule="evenodd" fill="#00ffdb" d="M1007.4 241.2 1008.8 259.2 1010.4 262.9 1012.1 264.2 1013.4 264.2 1015.4 262.5 1017.1 258.5 1017.4 250.5 1016.8 246.5 1015.4 244.5ZM879.8 234.2 881.1 238.2 882.8 239.9 890.1 243.9 900.8 247.2 911.1 246.9 919.1 245.2 924.1 242.5 924.1 240.2 922.8 238.2 923.8 236.2 923.8 232.2 922.8 229.9 925.4 227.5 931.8 226.2 959.4 224.9 970.8 223.5 959.4 222.2 936.4 221.5 918.4 219.5 900.4 218.9 896.8 219.5 882.8 227.5 880.1 230.9ZM695.1 233.9 696.4 237.5 698.4 239.9 705.8 244.2 714.8 246.9 725.1 246.5 734.4 244.5 739.1 242.2 738.8 239.9 737.4 237.9 738.8 235.9 738.4 231.9 737.4 229.9 741.1 227.2 746.4 226.2 774.1 224.9 784.4 223.5 779.1 222.5 751.4 221.5 733.4 219.5 715.1 218.9 710.8 219.9 699.1 226.9 695.4 230.5ZM1014.4 210.9 1012.4 206.2 1010.4 204.5 1008.1 204.5 1005.4 207.5 1002.8 214.2 1000.1 216.9 993.8 219.5 979.1 223.2 998.8 228.5 1000.1 229.5 999.4 231.2 974.8 232.5 938.8 232.5 937.8 234.5 940.1 235.5 991.8 235.9 999.4 236.5 1005.4 238.9 1006.1 235.9 1009.1 234.5 1008.4 232.9 1006.8 232.9 1005.8 231.9 1005.8 229.9 1015.1 221.9ZM829.1 210.5 827.4 206.5 825.8 204.9 824.1 204.5 821.1 207.2 818.8 213.5 816.1 217.2 811.8 219.5 801.1 223.2 814.4 228.5 815.4 230.2 813.8 231.5 793.8 232.5 753.4 232.5 752.8 234.9 754.8 235.5 803.4 235.5 814.4 236.5 817.4 238.9 817.4 244.5 819.4 252.9 821.4 256.2 823.4 256.9 825.8 254.9 826.8 252.9 828.4 244.5 820.1 237.5 820.1 236.2 821.1 235.2 823.1 235.5 824.1 234.9 824.1 233.2 823.4 232.5 820.4 232.5 819.4 230.5 821.4 227.9 829.8 221.9ZM822.8 148.9 822.4 156.9 823.4 160.5 825.8 163.5 827.8 163.5 830.4 159.9 831.4 152.9 826.8 149.9ZM695.1 141.2 696.8 145.2 704.4 150.5 715.4 153.5 724.8 153.2 734.1 150.9 737.8 148.5 738.4 146.5 737.4 144.9 738.8 142.9 738.8 141.2 737.4 137.2 740.8 134.5 744.8 133.5 776.1 131.9 784.4 130.5 771.1 129.2 749.4 129.2 727.1 126.9 712.1 126.5 698.8 134.2 695.8 137.2ZM879.8 141.2 880.8 144.9 882.4 146.9 891.4 151.5 901.8 154.5 909.4 154.2 918.4 152.5 923.8 150.2 924.1 147.2 922.8 145.5 923.8 143.2 923.8 139.5 922.8 136.9 925.8 134.5 933.8 133.2 956.8 132.2 971.1 130.5 956.4 129.2 934.8 128.5 909.8 126.2 898.4 126.2 882.4 134.9 880.1 137.9ZM834.1 119.9 831.8 114.5 829.4 112.5 826.8 112.5 823.8 115.2 820.4 122.2 817.8 125.2 806.4 129.9 806.8 131.2 812.4 133.2 817.8 136.5 817.1 137.9 814.4 138.9 805.4 139.5 754.1 139.5 752.8 140.2 752.8 141.9 753.4 142.5 802.4 142.5 819.1 143.9 820.8 141.9 823.8 141.9 823.8 140.5 820.4 140.2 818.8 137.2 823.8 133.2 834.1 128.5ZM1017.8 110.9 1016.4 108.5 1013.4 105.9 1010.8 105.5 1009.1 106.2 1006.1 109.2 1002.1 120.9 1000.1 123.5 994.1 126.5 979.1 130.5 999.1 135.9 1000.1 137.5 998.8 138.5 983.1 139.5 939.4 139.5 937.8 140.5 937.8 141.5 938.8 142.5 980.4 142.5 999.8 143.9 1003.8 145.5 1005.1 147.2 1005.1 150.5 1003.4 157.2 1003.4 162.9 1005.8 168.9 1007.1 169.9 1008.8 169.9 1011.1 167.9 1012.1 165.5 1012.8 159.2 1010.8 150.5 1005.8 145.9 1006.4 142.5 1009.1 141.5 1008.4 139.9 1006.1 139.5 1005.8 137.2 1008.4 134.2 1016.4 129.5 1018.1 127.5 1019.1 122.2 1019.1 115.9ZM634.4 94.9 624.8 94.9 624.8 258.5 626.4 257.5 627.8 255.2 629.8 248.5 631.4 238.5 634.4 239.2 635.4 238.2 636.1 232.2 635.1 228.5 637.8 224.5 638.8 220.2 638.8 205.2 639.8 196.9 639.1 183.9 637.1 178.5 628.1 169.2 629.8 157.2 630.4 140.9 631.8 140.9 631.8 142.9 633.1 145.5 635.1 145.5 636.1 139.5 634.8 135.2 637.8 130.2 638.4 126.5 636.4 101.9Z"/>
<path fill-rule="evenodd" fill="#00ffaa" d="M822.8 242.9 822.4 246.2 823.4 246.9 824.1 243.9ZM1006.4 234.2 1004.8 231.5 984.8 233.2 939.4 233.9 981.4 234.5 1004.8 236.2ZM823.1 234.5 823.1 233.5 820.8 233.9 818.4 231.5 802.8 233.2 754.1 233.9 799.8 234.5 819.1 236.2 820.8 234.2ZM633.4 229.2 632.1 231.9 632.1 235.2 632.8 237.2 634.8 238.2 636.1 232.9 634.8 229.5ZM880.4 232.5 880.8 236.2 882.8 239.2 886.1 239.9 891.1 242.9 901.4 246.2 911.1 245.5 917.1 243.9 921.8 240.2 921.4 237.2 922.8 234.9 921.4 229.9 924.4 223.9 921.4 222.5 913.8 221.2 898.8 220.5 882.8 228.5ZM696.4 232.5 697.8 237.2 700.1 239.5 706.8 243.2 714.8 245.9 722.4 245.9 728.4 244.9 734.4 242.5 736.4 240.5 736.1 237.5 737.4 235.9 737.4 232.5 736.4 231.2 736.4 229.5 739.1 223.9 737.4 222.9 728.8 221.2 713.8 220.5 709.4 222.2 699.8 227.9 697.1 230.5ZM824.8 212.2 822.8 213.2 820.1 217.9 815.4 222.5 815.4 223.9 819.4 226.9 822.4 226.2 826.4 222.2 826.4 215.2ZM1010.4 212.2 1008.4 212.2 1005.4 217.2 998.1 222.9 998.4 224.2 1004.8 227.2 1006.4 227.2 1008.8 225.9 1011.1 223.5 1011.8 221.5 1011.8 215.5ZM624.8 177.5 625.1 242.5 627.1 239.2 628.4 233.2 634.1 223.5 636.4 217.9 637.4 197.2 636.4 190.2 634.4 185.5 629.4 180.2ZM819.8 141.9 819.8 140.5 818.4 139.2 801.4 140.5 763.1 140.5 754.1 141.2 796.1 141.5 818.8 142.9ZM1006.4 140.9 1004.4 138.5 980.1 140.5 948.4 140.5 939.4 141.2 975.8 141.5 1005.1 143.2ZM633.8 136.5 632.4 138.5 632.4 142.9 633.1 144.5 634.4 145.2 635.4 144.2 636.1 140.9 634.8 136.9ZM696.4 139.9 698.1 144.9 704.4 149.2 715.1 152.5 726.8 151.9 731.4 150.5 736.4 147.2 736.1 144.9 737.4 143.2 737.4 139.9 736.4 136.9 739.1 130.9 726.1 128.2 712.8 127.9 700.4 134.5 697.4 137.2ZM880.8 138.2 880.8 143.2 883.1 146.5 886.4 147.2 890.8 149.9 900.4 153.2 910.1 152.9 917.4 150.9 921.4 147.9 921.4 144.2 922.8 142.5 921.4 137.2 924.4 131.2 922.1 129.9 912.8 128.2 898.1 127.9 882.4 135.9ZM829.1 118.2 826.8 118.2 825.1 119.9 822.4 124.9 818.8 128.9 818.4 130.9 820.8 133.2 824.4 132.2 831.1 128.5 831.8 123.2 830.4 119.5ZM1012.4 112.9 1010.4 112.9 1008.1 114.9 1005.1 123.9 998.1 129.5 998.4 131.5 1003.8 134.2 1006.1 134.5 1012.8 129.5 1015.1 124.2 1015.8 119.5 1014.8 115.2ZM631.4 94.9 624.8 94.9 624.8 150.2 626.4 146.9 627.1 141.2 634.4 129.9 636.4 123.9 635.1 108.9Z"/>
<path fill-rule="evenodd" fill="#00ff79" d="M897.8 242.5 898.1 243.9 901.4 245.2 910.8 244.5 917.4 242.2 920.1 239.9 920.1 238.5 914.8 237.2 902.4 236.2 898.8 238.5ZM712.8 243.5 716.4 245.2 726.8 244.2 732.8 241.9 735.1 238.9 729.8 237.2 717.1 236.2 713.4 238.9ZM1005.4 234.5 1004.4 232.5 991.1 233.9 1000.1 235.2 1004.8 235.2ZM819.4 234.5 819.4 233.5 818.1 232.5 808.8 233.9 815.8 235.2 818.8 235.2ZM634.1 229.9 632.8 231.2 632.4 234.9 633.1 236.9 634.4 237.9 635.8 235.5 635.8 232.2ZM883.4 228.9 881.8 230.2 880.8 234.2 881.8 237.5 883.4 238.9 884.8 238.9 886.1 237.5 887.8 230.9 885.8 228.9ZM892.8 225.2 893.1 228.2 894.4 229.9 900.4 232.2 916.1 231.5 919.4 230.5 920.8 229.2 920.8 227.5 918.4 224.5 911.4 222.2 905.4 221.5 897.8 221.9ZM707.4 225.2 707.8 227.9 710.1 230.5 715.1 232.2 731.1 231.5 734.8 230.2 735.8 228.9 734.4 225.5 732.1 223.9 724.1 221.9 712.8 221.9ZM624.8 188.2 625.1 228.9 627.1 226.9 633.8 216.2 635.4 209.2 634.8 198.9 632.8 193.5 629.1 189.9ZM897.8 149.9 898.4 151.2 900.8 152.2 909.8 151.9 917.1 149.5 920.1 146.9 920.1 145.9 916.1 144.5 901.8 143.5 898.8 145.9ZM713.1 148.2 715.8 151.5 721.1 151.5 729.8 149.9 733.1 148.2 735.1 145.9 728.4 144.2 716.4 143.5 713.8 145.5ZM819.1 140.9 816.4 140.2 812.1 141.2 818.8 141.9ZM1005.4 141.9 1004.8 139.9 995.8 140.2 991.1 141.2 1002.4 142.5ZM634.1 137.2 632.8 138.9 632.8 142.9 634.4 144.9 635.8 142.5 635.8 139.5ZM885.4 135.9 882.4 136.5 880.8 140.2 882.1 145.2 884.1 146.2 885.8 145.2 888.1 138.5ZM892.8 132.2 893.4 135.9 895.1 137.5 899.4 139.2 915.1 138.9 918.1 138.2 920.8 136.5 920.8 134.5 919.1 132.2 916.1 130.5 910.4 129.2 898.4 128.9 895.1 130.2ZM707.4 132.5 708.4 136.2 710.4 137.9 714.1 139.2 730.1 138.9 734.4 137.5 735.8 135.9 735.1 133.5 732.4 131.2 722.4 128.9 713.1 128.9 709.4 130.5ZM628.1 94.9 624.8 94.9 624.8 136.5 627.1 134.9 632.4 127.2 634.8 121.2 632.8 109.9Z"/>
<path fill-rule="evenodd" fill="#00ff49" d="M1004.1 234.2 1003.8 233.5 1002.1 233.9ZM633.8 230.5 632.8 232.2 632.8 235.5 633.8 237.2 634.8 237.2 635.8 235.2 635.8 232.9 635.1 231.2ZM884.1 229.2 882.1 230.2 881.1 232.9 881.4 236.2 883.8 238.5 885.1 237.9 886.1 235.5 886.1 231.5ZM895.8 224.2 896.4 226.5 898.8 227.9 917.8 227.2 915.1 224.5 908.8 222.9 899.8 222.5ZM710.4 224.5 710.8 225.9 713.8 227.9 732.8 227.2 732.1 225.9 729.1 224.2 723.8 222.9 714.8 222.5 712.8 222.9ZM624.8 198.9 624.8 217.5 628.1 215.9 631.8 211.9 633.1 208.9 633.1 206.5 630.4 200.9 627.4 199.2ZM633.8 137.9 632.8 139.9 632.8 142.2 633.4 143.9 634.8 144.2 635.8 140.2 634.8 137.9ZM883.1 136.5 881.4 138.5 881.1 141.9 882.1 144.5 884.4 145.5 885.8 143.9 886.1 138.9 884.8 136.5ZM895.8 131.5 896.1 133.2 898.1 134.9 918.1 134.2 914.8 131.5 907.8 129.9 898.4 129.9ZM710.4 131.5 711.1 133.5 713.1 134.9 732.8 134.2 731.4 132.5 728.8 131.2 722.4 129.9 713.4 129.9ZM624.8 104.2 624.8 129.2 625.4 129.2 630.8 123.9 632.4 120.2 628.8 109.5 626.8 105.9Z"/>
<path fill-rule="evenodd" fill="#00ff18" d="M633.8 230.9 632.8 234.2 633.4 236.5 634.4 237.2 635.8 233.5 635.1 231.5ZM883.1 229.9 881.4 232.2 881.4 235.5 883.1 237.9 884.4 237.9 885.8 235.2 885.8 232.2 884.4 229.9ZM633.8 138.2 633.1 139.2 633.1 142.9 634.4 144.2 635.4 142.9 635.4 139.5 634.8 138.2ZM883.4 136.9 881.8 138.5 881.4 142.5 882.1 144.2 884.1 145.2 885.8 142.5 885.8 139.2 884.8 137.2ZM624.8 118.2 624.8 121.9 627.8 120.9 626.1 118.5Z"/>
<path fill-rule="evenodd" fill="#18ff00" d="M633.8 231.2 633.1 235.2 634.4 236.9 635.4 235.5 635.4 232.5ZM883.1 230.2 881.8 231.9 881.4 234.2 882.1 236.5 884.1 237.5 885.4 235.5 885.4 232.2 884.1 230.2ZM633.8 138.5 633.1 142.2 634.4 143.9 635.4 142.2 635.4 139.9 634.8 138.5ZM883.4 137.2 881.8 139.2 881.4 141.5 882.4 144.2 883.8 144.9 885.4 142.5 885.4 139.2Z"/>
<path fill-rule="evenodd" fill="#49ff00" d="M633.8 231.5 633.1 234.5 634.4 236.5 635.4 234.9 635.4 232.9 634.8 231.5ZM883.1 230.5 881.8 232.5 881.8 235.2 883.1 237.2 884.1 237.2 885.1 235.9 885.4 233.2 884.8 231.2ZM633.8 138.9 633.4 142.9 634.4 143.5 635.4 140.2 634.8 138.9ZM883.4 137.5 881.8 139.5 881.8 142.5 883.8 144.5 885.1 142.9 885.4 140.2 884.4 137.9Z"/>
<path fill-rule="evenodd" fill="#79ff00" d="M633.8 231.9 633.4 235.5 634.8 236.2 635.4 233.5 634.8 231.9ZM883.1 230.9 881.8 234.5 882.4 236.2 884.1 236.9 885.1 235.2 885.1 232.5 884.1 230.9ZM634.1 138.9 633.4 142.2 634.8 143.2 635.1 139.5ZM883.4 137.9 882.1 139.2 881.8 141.5 882.4 143.5 883.8 144.2 885.1 142.2 885.1 139.9Z"/>
<path fill-rule="evenodd" fill="#aaff00" d="M634.1 231.9 633.4 234.9 634.8 235.9 635.1 232.9ZM883.1 231.2 882.1 232.5 882.1 235.2 883.1 236.5 884.1 236.5 885.1 233.5 884.4 231.5ZM634.1 139.2 633.4 141.9 634.4 143.2 635.1 139.9ZM883.8 138.2 882.1 139.9 882.1 142.5 883.1 143.9 884.8 142.9 885.1 141.2 884.8 139.2Z"/>
<path fill-rule="evenodd" fill="#dbff00" d="M634.1 232.2 633.4 234.2 634.4 235.9 635.1 233.2ZM883.1 231.5 882.1 234.5 882.8 236.2 883.8 236.5 884.8 235.2 884.8 232.9 884.1 231.5ZM634.8 139.5 633.8 139.9 634.1 142.9 635.1 141.9ZM883.1 138.5 882.1 141.9 883.8 143.5 884.8 142.2 884.8 139.9Z"/>
<path fill-rule="evenodd" fill="#fff300" d="M634.8 232.5 633.8 232.9 634.1 235.5 635.1 234.5ZM883.4 231.5 882.4 232.5 883.1 236.2 884.4 235.5 884.8 234.2ZM634.4 139.5 633.8 140.2 634.1 142.5 634.8 142.2ZM883.1 138.9 882.4 142.5 883.8 143.2 884.8 140.5Z"/>
<path fill-rule="evenodd" fill="#ffc200" d="M634.4 232.5 633.8 233.2 634.1 235.2 634.8 234.9ZM883.8 231.9 882.4 233.2 883.1 235.9 884.4 234.9ZM634.4 139.9 633.8 140.9 634.1 142.2 634.8 141.9ZM883.8 139.2 882.4 140.2 882.4 141.9 883.4 143.2 884.4 142.2 884.4 139.9Z"/>
<path fill-rule="evenodd" fill="#ff9200" d="M634.4 232.9 634.1 234.9 634.8 234.5ZM883.1 232.2 882.8 235.2 883.8 235.5 884.4 233.5ZM634.4 140.2 634.1 141.9 634.8 141.5ZM883.8 139.5 882.8 139.9 882.8 142.2 883.4 142.9 884.4 141.5Z"/>
<path fill-rule="evenodd" fill="#ff6100" d="M883.1 232.5 882.8 234.5 883.8 235.2 884.1 233.2ZM883.4 139.5 882.8 140.2 883.4 142.5 884.1 141.9Z"/>
<path fill-rule="evenodd" fill="#ff3100" d="M883.8 232.9 883.1 233.2 883.1 234.9 884.1 234.2ZM883.4 139.9 883.4 142.2 884.1 141.2Z"/>
<path fill-rule="evenodd" fill="#ff0000" d="M883.8 140.5 883.1 140.9 883.4 141.9Z"/>
<ellipse cx="653.4" cy="141.1" rx="18.6" ry="10.0" fill="#fff"/>
<ellipse cx="717.6" cy="141.1" rx="20.1" ry="10.0" fill="#fff"/>
<ellipse cx="838.6" cy="141.1" rx="19.4" ry="10.0" fill="#fff"/>
<ellipse cx="902.8" cy="141.1" rx="18.6" ry="10.0" fill="#fff"/>
<ellipse cx="1024.7" cy="141.1" rx="19.4" ry="10.0" fill="#fff"/>
<ellipse cx="653.4" cy="234.0" rx="18.6" ry="10.0" fill="#fff"/>
<ellipse cx="717.6" cy="234.0" rx="20.1" ry="10.0" fill="#fff"/>
<ellipse cx="838.6" cy="234.0" rx="19.4" ry="10.0" fill="#fff"/>
<ellipse cx="902.8" cy="234.0" rx="18.6" ry="10.0" fill="#fff"/>
<ellipse cx="1024.7" cy="234.0" rx="19.4" ry="10.0" fill="#fff"/>
<rect x="81.00" y="432.00" width="428.20" height="186.00" fill="#0000ff"/>
<path fill-rule="evenodd" fill="#0031ff" d="M81.2 432.2 81.2 617.8 509.2 617.8 509.2 432.2ZM314.2 578.8 312.5 579.8 310.5 579.5 312.8 578.5ZM310.8 486.5 311.8 485.8 313.5 486.2Z"/>
<path fill-rule="evenodd" fill="#0061ff" d="M81.2 432.2 81.2 617.8 509.2 617.8 509.2 432.2ZM136.5 575.5 132.8 578.5 127.8 580.5 122.8 580.8 121.5 580.2 122.5 577.8 125.8 575.5 130.2 574.8 135.2 574.8ZM487.8 575.2 502.2 574.2 503.2 575.2 503.2 576.5 505.5 576.8 501.5 579.5 495.5 580.5 494.8 579.8 496.5 577.2 496.2 576.5ZM503.2 567.8 501.8 569.2 492.2 568.8 487.2 567.8 488.2 567.2 502.2 566.5ZM123.5 562.2 127.5 562.2 133.5 564.8 131.5 566.2 129.8 566.2ZM298.8 567.8 300.5 566.8 307.8 565.5 308.2 564.5 306.5 561.2 314.5 562.5 319.5 565.2 318.2 566.5 316.5 571.2 318.5 573.5 322.2 575.2 315.5 579.8 308.5 580.8 307.2 580.2 307.2 577.2 300.5 576.2 298.8 575.2 301.2 574.2 312.2 572.5 313.2 571.2 309.2 569.8 300.8 568.8ZM136.5 482.5 132.8 485.5 126.5 487.8 121.8 487.8 120.8 487.2 123.5 483.5 126.2 482.2 133.2 481.5ZM505.2 484.2 501.5 486.5 496.2 487.5 495.5 486.8 495.8 485.5 499.2 483.8 494.2 482.2 502.2 481.2 502.8 483.5ZM321.8 482.5 315.5 486.8 309.2 487.8 307.8 487.2 307.8 483.8 301.8 482.2 304.2 481.2 316.2 479.2 321.2 481.5ZM502.8 474.2 502.2 475.8 496.8 475.8 492.2 474.8 492.8 474.2 502.2 473.5ZM301.5 474.8 303.2 473.8 310.2 472.5 310.5 471.8 308.8 469.5 309.2 468.5 317.2 470.5 319.5 472.2 316.2 477.5 303.5 475.8ZM122.5 468.8 129.5 469.8 132.5 471.5 129.5 472.2Z"/>
<path fill-rule="evenodd" fill="#0092ff" d="M81.2 432.2 81.2 617.8 159.2 617.8 163.8 609.5 171.8 602.5 180.2 598.8 192.2 596.8 219.5 597.2 232.8 599.8 240.2 603.8 245.2 608.5 250.2 617.8 346.2 617.8 347.2 614.5 350.5 608.8 355.2 603.8 358.8 601.2 365.2 598.2 370.2 596.8 381.2 595.8 404.2 596.5 416.8 599.2 421.8 601.8 426.8 606.5 430.5 612.8 431.8 617.8 509.2 617.8 509.2 575.2 506.5 577.8 502.5 580.2 498.5 581.2 482.8 581.5 481.5 577.5 474.5 575.2 480.8 573.5 483.2 571.8 483.2 569.8 478.8 567.8 484.8 565.8 485.8 564.5 486.2 560.5 495.5 560.8 505.8 564.2 507.8 566.2 506.8 569.5 509.2 572.2 509.2 482.2 504.5 486.2 498.2 488.2 488.2 488.2 487.2 484.5 480.5 482.5 481.5 481.5 485.5 480.8 488.5 479.2 489.2 477.5 484.2 474.8 489.8 472.5 490.5 467.8 499.8 468.8 505.8 471.2 507.8 473.2 506.8 475.2 507.2 477.5 509.2 479.2 509.2 432.2 434.5 432.2 428.2 439.8 419.2 444.8 404.5 448.2 381.5 450.2 365.2 449.8 350.5 446.5 340.2 441.2 334.5 435.8 332.2 432.2 262.2 432.2 259.2 438.5 254.5 443.5 248.2 447.2 242.5 449.2 227.5 451.5 205.8 451.8 197.8 452.8 182.5 452.2 170.8 448.8 163.5 444.5 158.5 439.5 154.5 432.2ZM291.2 575.2 296.5 572.5 296.8 569.8 293.5 567.8 298.5 565.2 298.5 561.2 299.8 560.2 309.5 560.5 317.8 562.8 322.2 566.2 321.8 569.8 324.5 571.8 323.8 574.8 320.2 578.5 317.2 580.5 312.8 581.5 297.2 581.5 296.2 577.8ZM95.2 562.8 101.2 560.8 112.2 559.8 127.2 561.2 133.8 563.5 136.8 566.2 136.2 569.2 137.8 571.5 139.2 571.8 139.2 573.5 133.5 579.5 127.2 581.5 109.5 582.2 98.8 580.8 93.8 578.8ZM332.2 520.5 333.8 517.8 338.2 513.8 348.8 507.8 362.8 503.2 378.2 501.2 410.8 501.2 425.5 502.8 430.5 504.8 435.5 509.2 437.5 512.5 438.8 518.2 438.5 525.8 436.5 530.8 432.2 535.5 427.5 538.2 414.2 541.2 387.5 542.5 373.2 541.5 364.2 539.5 351.8 535.5 342.5 531.2 336.5 527.2 332.8 523.2ZM148.2 515.8 150.5 509.2 154.5 504.5 161.8 500.2 168.5 498.2 183.5 497.5 207.2 499.2 240.5 499.2 249.5 501.2 253.2 503.2 257.2 507.2 260.2 514.8 260.2 526.5 258.5 531.8 255.2 536.2 250.2 539.5 241.8 542.2 229.8 543.8 209.5 544.2 192.2 546.2 179.2 545.8 169.5 544.2 163.2 542.2 154.5 537.2 150.8 533.2 148.5 528.2 147.8 523.5ZM269.2 479.8 276.5 482.2 272.5 483.5 269.8 482.2ZM269.2 475.5 270.2 474.5 271.5 474.8 270.5 475.8ZM294.2 482.2 299.5 479.5 299.8 477.2 296.2 474.8 300.5 472.5 300.5 468.2 303.2 467.2 311.2 467.8 319.2 470.5 322.2 473.2 322.2 477.5 324.5 478.8 323.8 481.8 320.2 485.5 317.2 487.5 312.5 488.5 300.2 488.5 299.2 487.8 299.2 484.8ZM94.5 469.8 99.8 467.8 107.2 466.8 118.2 466.8 125.5 467.8 130.5 469.2 135.2 471.5 136.8 473.5 136.2 476.5 139.2 479.2 139.2 480.5 133.5 486.5 128.8 488.2 116.5 489.2 100.8 488.2 96.2 486.5Z"/>
<path fill-rule="evenodd" fill="#00c2ff" d="M81.2 432.2 81.2 617.8 123.5 617.8 121.8 606.2 121.8 596.2 124.8 590.2 131.5 585.2 123.5 582.5 107.2 582.8 99.8 581.8 93.8 580.2 89.5 577.5 90.2 564.5 91.8 562.8 97.2 560.8 110.2 559.2 124.2 559.5 133.2 561.8 137.2 565.2 139.5 569.5 140.2 573.5 138.8 576.2 139.2 577.2 158.2 577.5 165.8 578.5 167.8 580.8 167.2 584.2 167.8 585.8 184.2 591.2 230.2 592.8 244.5 591.5 249.8 592.5 254.2 594.8 257.8 599.5 259.2 617.8 299.5 617.8 300.5 598.8 301.5 594.2 304.2 590.5 310.5 586.5 311.5 584.5 308.8 582.5 297.5 582.5 291.5 581.5 290.5 580.8 289.8 577.5 285.5 575.5 285.8 574.5 288.8 573.5 290.5 570.8 290.5 569.5 288.2 567.8 294.5 565.5 295.8 560.8 298.8 559.5 308.8 559.2 314.2 559.8 317.8 561.2 322.5 565.2 325.2 570.5 325.5 573.2 324.5 576.8 350.5 578.2 353.2 580.5 353.2 585.5 367.5 590.5 406.8 591.8 417.2 592.8 427.8 592.2 431.5 593.2 433.5 594.8 435.2 597.8 435.8 607.8 438.5 617.8 486.5 617.8 488.8 609.2 491.8 603.5 500.5 595.8 509.2 589.5 509.2 583.5 494.8 581.8 483.8 582.5 475.8 581.5 473.8 580.5 472.8 577.2 468.8 575.2 472.2 573.5 474.2 570.5 473.5 569.2 471.2 567.8 479.8 565.8 481.8 562.8 481.8 560.8 483.8 559.8 490.5 559.5 500.8 561.2 506.5 563.5 509.2 566.8 509.2 552.8 505.2 548.8 502.5 544.2 500.5 538.8 498.8 530.2 498.8 520.5 500.2 512.8 504.2 502.8 509.2 497.2 509.2 490.2 496.5 488.8 483.5 489.2 478.2 488.5 477.2 487.8 477.2 484.5 473.2 482.5 474.2 481.5 478.8 480.5 481.2 478.5 481.8 476.5 480.5 474.8 484.5 472.5 485.5 467.8 486.5 467.2 495.2 467.2 501.8 468.5 506.8 470.8 509.2 473.8 509.2 446.2 507.5 437.8 505.2 432.2 444.5 432.2 442.2 444.8 440.5 447.5 436.5 450.5 430.5 451.8 418.5 451.8 407.8 453.5 392.5 454.2 378.5 456.5 363.8 460.5 349.2 465.8 341.8 466.8 321.5 466.8 316.8 466.2 313.8 464.8 310.2 460.8 307.8 454.8 306.8 449.2 306.8 432.2 269.2 432.2 267.2 443.2 263.8 448.8 258.5 451.5 254.2 451.8 243.5 454.8 233.2 455.8 206.5 455.8 193.2 457.8 182.5 457.8 170.8 456.5 142.5 458.8 132.8 458.5 129.2 456.8 127.2 454.5 126.5 452.2 127.2 447.2 132.8 432.2ZM456.2 481.2 459.8 482.2 457.5 482.8ZM268.5 474.8 270.8 473.5 277.8 474.5 278.5 475.2 276.2 476.8 278.2 480.2 281.8 482.2 276.5 485.2 268.8 482.5 267.8 479.5ZM288.8 482.2 293.5 479.2 294.2 476.5 292.8 474.8 296.8 472.2 298.2 467.2 301.5 466.5 312.8 466.8 318.8 468.8 322.5 472.2 325.5 478.8 324.2 483.8 350.5 485.2 353.2 487.5 353.2 492.5 362.8 496.2 393.2 497.5 428.5 497.5 436.2 498.8 439.5 501.2 442.5 507.2 444.2 512.8 444.5 525.2 443.5 530.5 440.8 536.5 438.2 539.8 434.2 542.8 428.2 545.2 419.8 546.5 393.2 547.2 380.5 548.8 345.8 559.5 315.8 559.5 311.8 557.8 307.8 553.5 304.5 545.8 303.2 539.2 303.2 523.5 304.5 503.5 306.2 499.2 312.2 493.2 312.5 491.5 308.5 489.2 297.2 489.2 293.8 488.5 292.8 484.5ZM90.5 471.2 95.5 468.2 103.2 466.5 110.8 465.8 123.5 466.5 130.8 468.2 136.8 471.8 140.2 478.5 140.2 480.5 138.8 483.2 139.2 484.2 157.8 484.5 165.8 485.5 167.5 486.8 167.8 489.8 167.2 491.2 207.5 496.2 246.5 495.5 260.8 497.8 264.5 501.2 266.5 514.2 266.5 525.8 264.5 534.8 261.8 539.8 258.8 542.8 253.5 545.5 247.2 547.2 234.2 548.5 205.5 548.8 194.8 551.2 181.2 552.5 165.2 558.2 159.2 559.5 143.5 559.5 132.2 557.5 127.8 555.2 125.2 552.5 122.8 547.8 119.5 513.5 119.5 505.5 120.5 501.2 124.5 495.8 129.8 492.8 130.2 491.8 122.8 489.5 104.2 489.5 97.5 488.2 93.5 486.5 92.5 485.5 91.2 479.8Z"/>
<path fill-rule="evenodd" fill="#00f3ff" d="M485.8 432.2 454.2 432.2 448.5 451.5 446.5 455.2 444.5 457.2 441.5 458.5 430.8 459.2 412.2 457.8 392.8 457.8 366.8 467.2 362.8 469.5 358.5 474.2 354.2 472.2 324.5 472.2 324.2 473.5 326.8 479.5 353.8 479.5 357.8 476.5 358.8 476.5 359.8 478.8 359.5 481.8 360.5 485.2 365.5 489.2 374.8 492.5 388.8 493.8 394.8 495.2 420.2 494.8 433.2 493.2 441.5 493.2 446.5 494.5 449.2 496.2 450.8 498.2 451.8 501.5 451.8 518.8 450.5 536.2 447.5 544.5 443.2 549.2 438.5 551.2 433.8 551.8 401.8 550.5 392.8 550.8 366.8 560.2 362.8 562.5 358.5 567.2 354.2 565.2 324.5 565.2 324.2 566.5 326.8 572.5 353.8 572.5 357.8 569.5 358.8 569.5 359.8 571.8 359.5 574.8 360.5 578.2 365.5 582.2 374.8 585.5 393.5 588.8 405.2 589.2 425.8 587.2 434.2 587.5 440.2 590.8 443.2 594.2 444.8 597.5 446.5 604.8 446.8 617.8 471.5 617.8 472.5 601.2 474.2 593.8 475.5 591.2 478.8 587.8 485.2 583.8 475.2 582.2 470.2 580.5 469.2 579.5 468.8 577.5 465.5 575.2 467.2 573.5 467.8 570.5 465.5 568.2 466.8 567.2 476.2 565.5 478.5 564.2 480.5 560.2 487.8 558.2 486.2 553.5 480.8 545.5 478.2 539.2 477.5 530.2 479.5 503.5 480.8 499.2 483.8 495.8 492.2 491.5 492.5 490.5 473.8 488.5 471.2 487.5 470.2 484.5 467.5 483.5 463.5 483.5 460.8 484.5 458.2 483.8 454.8 481.8 454.2 477.5 455.2 475.2 456.5 474.5 457.2 475.2 456.5 476.8 460.8 480.5 463.8 481.2 472.2 480.5 475.2 479.2 477.8 476.8 477.5 475.2 482.2 471.8 483.8 467.2 492.8 465.8 493.5 465.2 492.8 445.2ZM430.2 570.2 430.2 568.2 431.2 567.5 436.8 567.5 437.5 568.2 436.2 569.8 432.8 569.8 430.8 570.8ZM429.8 475.5 430.8 474.5 433.5 474.8 431.2 475.8ZM429.8 481.5 430.8 479.2 432.8 480.2 436.5 479.2 437.2 476.5 433.8 474.8 434.5 474.2 437.5 474.2 441.2 475.2 439.2 476.5 440.5 480.2 449.8 482.2 447.2 483.2 435.8 483.5 430.8 482.8ZM296.8 432.2 278.5 432.2 278.2 440.2 275.8 448.8 272.5 454.5 270.2 456.8 266.5 458.5 260.2 459.5 206.2 458.5 178.5 464.8 174.8 466.8 170.8 470.8 163.5 471.8 138.8 471.8 138.8 473.8 141.2 479.2 142.2 479.8 169.8 479.5 172.5 478.8 174.2 484.8 178.8 488.8 190.2 491.2 202.2 492.5 208.8 494.2 231.8 493.8 249.5 492.8 254.8 491.8 265.2 492.2 270.2 494.2 273.8 497.5 275.5 504.5 274.8 528.2 273.8 537.2 270.2 546.2 265.5 550.5 261.5 551.8 255.2 552.5 237.2 551.5 206.2 551.5 182.2 559.5 176.2 562.8 172.8 565.8 168.2 564.8 164.5 565.5 139.2 565.2 138.8 566.5 141.2 572.2 142.2 572.8 169.5 572.5 172.5 571.5 174.8 578.8 181.5 583.2 190.2 585.8 208.8 589.2 224.8 588.8 243.2 586.8 250.8 587.5 261.8 593.2 264.8 596.2 265.8 599.8 266.2 612.2 267.5 617.8 290.2 617.8 291.8 593.5 292.8 590.5 298.2 583.8 287.2 581.2 285.8 580.2 284.5 577.2 279.8 575.8 278.8 574.8 282.2 573.8 283.8 572.5 284.8 569.5 283.2 568.2 283.8 567.5 291.8 565.2 294.5 560.2 299.8 557.8 293.5 540.5 292.8 525.8 294.5 502.2 296.2 497.2 301.2 490.8 290.8 488.5 289.2 484.8 286.8 483.5 283.8 483.5 281.5 484.5 280.2 486.5 277.8 486.5 268.8 483.5 262.5 484.2 248.2 483.5 244.5 482.8 243.5 481.5 245.2 480.2 250.2 480.8 266.8 480.2 267.2 476.2 262.8 474.8 266.5 474.8 271.8 472.5 282.8 474.5 283.8 475.2 282.2 476.8 284.5 479.5 286.2 479.8 289.5 476.8 288.2 475.2 293.5 473.2 296.8 466.8 301.8 465.2 296.8 445.5ZM243.8 574.8 244.8 573.8 251.5 574.2 252.2 575.2 250.8 575.8 245.5 575.8ZM243.8 569.2 243.8 568.2 245.8 567.2 251.2 567.2 254.2 568.2 252.5 569.2 248.8 568.8 244.8 570.2ZM268.5 569.2 268.5 568.2 270.5 566.5 273.5 566.5 277.5 567.8 275.8 569.2 272.8 569.8 269.2 569.8ZM81.2 432.2 81.2 617.8 98.8 617.8 97.8 600.5 98.5 583.8 87.5 576.8 86.8 575.8 88.2 564.8 93.5 561.2 98.5 559.5 106.8 558.5 109.5 557.2 110.2 547.2 109.8 536.5 107.8 522.8 102.5 500.8 101.2 491.2 99.8 489.8 92.8 486.8 90.8 484.8 88.8 477.8 88.5 471.8 92.2 468.8 98.8 465.5 99.5 453.5 102.5 432.2Z"/>
<path fill-rule="evenodd" fill="#00ffdb" d="M430.8 572.5 432.8 574.5 434.8 574.5 436.8 573.2 436.5 571.5 435.2 570.5 432.5 570.5ZM245.5 570.8 245.5 572.5 247.2 573.5 250.5 573.5 252.2 571.8 251.8 570.5 250.2 569.5 247.5 569.5ZM326.5 568.5 327.2 569.5 333.5 568.8 330.5 568.2ZM141.2 568.2 141.8 569.5 149.2 568.8ZM296.2 557.2 287.2 545.2 284.2 542.2 281.2 541.8 277.2 544.8 272.2 551.5 270.2 552.8 263.5 554.5 248.2 554.8 222.5 553.2 205.5 553.5 195.8 558.8 188.5 561.2 182.5 564.2 179.2 568.5 179.2 574.5 182.2 578.5 187.8 581.5 210.5 586.8 227.2 586.2 242.2 584.2 249.5 584.2 251.5 584.8 258.8 589.5 268.2 593.2 270.2 595.2 270.8 596.8 271.2 609.5 274.2 617.8 282.5 617.8 285.5 607.2 287.8 590.5 291.5 583.8 283.2 580.5 279.8 577.5 274.8 575.5 273.5 572.8 268.8 571.5 267.2 567.8 272.8 565.2 278.8 566.8 286.2 565.8 290.8 563.5 292.8 560.2 296.2 558.5ZM241.5 575.5 242.5 573.5 241.8 567.8 243.5 566.8 256.5 566.5 263.8 567.2 264.8 567.8 257.5 569.8 255.2 573.2 255.5 574.8 251.8 576.8 244.5 576.8ZM272.8 486.8 272.8 489.5 277.8 494.8 282.2 502.8 283.8 504.2 286.8 503.8 289.5 500.8 294.2 491.8 294.2 490.5 287.8 488.2 285.8 486.5 283.5 487.2ZM478.5 490.8 455.8 483.5 450.5 484.2 445.5 487.5 446.5 489.2 453.2 492.8 455.8 496.2 458.2 514.8 457.2 536.8 452.5 547.8 449.2 551.5 442.2 553.8 433.8 554.5 408.8 553.2 391.8 553.5 382.2 558.8 372.2 562.2 367.8 564.8 365.2 569.5 365.2 573.5 366.8 577.2 369.8 579.5 378.2 582.8 396.5 586.8 413.5 586.2 428.8 584.2 435.8 584.8 440.8 587.8 445.8 592.2 448.2 595.5 453.8 607.5 456.5 610.2 458.8 610.2 461.2 606.8 466.5 593.5 474.8 584.2 474.8 583.2 469.5 581.2 466.5 579.2 465.8 577.2 463.2 575.2 463.8 572.8 462.2 569.5 455.8 568.8 455.5 567.8 456.5 567.2 467.5 566.2 476.2 563.2 478.8 560.2 482.5 558.2 481.2 555.2 472.8 547.8 469.5 537.8 470.2 515.2 474.2 496.8ZM428.2 567.8 429.8 566.8 436.5 566.5 442.2 567.2 443.5 568.2 440.8 569.5 439.8 572.8 440.5 574.8 439.5 575.8 435.8 576.8 431.2 576.8 427.8 575.5 428.5 573.8ZM431.2 476.8 431.2 478.2 432.5 479.5 434.8 479.5 436.5 477.8 436.2 476.5 434.5 475.5 432.2 475.8ZM326.5 475.5 327.2 476.5 333.5 475.8 330.5 475.2ZM141.2 474.8 142.2 476.8 152.5 475.8ZM298.2 463.5 295.5 455.5 292.5 450.5 289.5 447.5 285.5 446.8 280.2 451.2 274.2 459.2 267.5 461.5 248.2 461.8 220.2 460.2 207.2 460.2 203.8 460.8 197.2 464.5 187.8 467.5 182.2 470.5 179.2 474.5 178.8 479.5 180.2 483.5 184.2 486.8 195.5 490.2 210.2 492.8 241.5 491.2 248.5 489.2 250.2 487.5 248.8 485.5 241.5 482.5 243.2 477.8 249.2 480.2 255.8 480.5 260.8 479.5 263.2 477.5 261.2 475.8 255.5 474.5 249.8 474.8 243.5 477.2 241.8 475.2 242.5 474.2 245.2 473.5 268.2 473.5 274.2 471.2 284.2 473.8 289.8 473.5 293.2 471.5 294.5 467.8 298.2 465.2ZM486.5 461.5 483.5 453.2 476.8 443.8 471.8 432.5 462.5 432.2 456.2 440.5 449.8 457.5 446.2 460.5 441.5 461.5 428.8 461.5 408.8 460.2 391.8 460.5 382.2 465.8 375.5 467.8 369.2 470.8 365.5 475.2 365.2 480.5 367.8 485.2 373.2 488.2 394.2 493.2 404.2 493.5 422.5 492.2 434.2 489.8 438.8 487.8 436.5 485.5 429.2 483.5 427.5 482.2 428.5 480.8 428.2 474.8 429.5 473.8 442.5 473.5 449.5 474.2 451.2 475.2 449.2 476.2 448.8 477.2 452.2 480.5 453.2 480.5 453.8 475.5 456.2 473.8 460.5 474.8 460.5 476.5 463.8 478.5 468.8 478.8 473.8 476.8 474.8 474.5 478.8 473.2 480.5 471.5 481.5 467.8 486.8 464.8ZM81.2 432.2 81.2 617.8 88.2 617.8 87.8 605.2 90.5 581.2 84.8 574.5 85.5 567.2 91.8 560.5 92.8 552.2 94.2 549.2 96.8 547.5 100.5 547.5 103.2 545.5 104.8 540.5 104.8 532.2 102.5 519.2 95.5 497.2 94.2 489.5 89.8 484.8 87.2 477.5 86.8 472.8 91.2 468.5 91.8 466.8 91.8 432.2Z"/>
<path fill-rule="evenodd" fill="#00ffaa" d="M436.2 571.8 434.2 570.5 432.5 570.8 431.5 571.8 431.5 573.2 432.5 574.2 434.8 574.2 436.2 573.2ZM245.8 571.2 246.5 572.8 248.5 573.5 250.8 572.8 251.5 571.8 250.2 569.8 247.2 569.8ZM257.8 572.8 257.2 574.8 252.2 578.8 251.5 580.2 252.2 582.2 256.5 586.5 260.8 589.2 265.2 590.5 273.2 591.5 275.8 594.8 277.8 602.5 280.2 603.2 282.8 599.2 284.8 589.8 287.2 583.2 277.5 578.8 271.5 573.5 268.8 572.5 266.8 569.5 263.2 569.8ZM294.2 558.2 291.8 554.8 287.8 552.5 282.8 547.8 279.2 548.2 273.8 553.5 271.5 554.8 262.8 556.5 249.2 556.5 225.2 554.8 206.5 554.8 203.2 556.2 197.8 559.8 189.2 562.5 184.2 565.2 181.2 568.8 180.8 573.2 181.8 575.5 185.2 578.5 196.5 582.5 209.5 585.2 228.2 584.2 237.2 582.5 242.5 580.2 241.8 577.5 240.2 575.8 241.2 573.8 241.2 569.2 240.5 567.8 242.2 566.5 247.5 565.5 268.8 566.2 273.8 564.2 279.2 565.8 282.2 565.8 286.5 563.8ZM479.8 557.5 477.5 555.2 472.8 553.5 470.2 550.8 464.2 537.5 463.2 536.8 458.2 543.5 454.5 550.8 451.2 553.8 444.5 555.5 436.8 556.2 411.5 554.8 392.8 554.8 383.2 560.2 371.8 564.2 367.8 567.8 366.8 571.8 368.5 576.2 371.8 578.8 375.5 580.5 395.5 585.2 403.8 585.2 418.5 583.5 428.5 580.5 428.8 578.8 426.2 575.5 427.5 573.5 426.8 567.8 428.5 566.5 439.2 565.8 447.2 566.8 448.8 568.2 444.5 570.2 442.5 573.2 442.5 575.2 437.8 577.8 436.5 579.2 436.2 581.2 446.5 590.2 453.5 598.5 456.2 599.5 458.5 598.2 462.8 591.8 469.8 584.2 470.2 582.5 464.5 578.5 461.2 574.8 461.2 573.2 459.8 571.8 457.2 570.5 455.2 570.5 454.5 567.8 458.2 565.8 463.5 565.8 466.8 564.8 473.2 561.2 479.5 559.2ZM278.8 488.5 278.8 490.8 281.8 496.5 284.2 498.5 286.5 498.5 288.8 496.2 290.5 492.8 290.8 490.2 283.8 487.8ZM457.2 485.8 456.2 488.8 458.5 494.2 459.8 504.8 463.2 516.5 462.5 528.2 463.5 531.2 464.8 527.2 464.8 515.5 469.8 504.2 472.5 490.2 466.8 487.5 460.2 485.8ZM431.8 476.5 431.5 478.2 432.5 479.2 434.8 479.2 436.2 477.8 434.8 475.8ZM245.5 477.2 246.5 478.8 251.5 480.2 257.8 479.8 261.5 478.2 261.5 476.8 256.8 475.2 250.2 475.2ZM296.2 463.8 292.8 456.2 290.5 453.5 288.2 452.2 284.8 452.2 282.5 453.5 275.5 461.2 267.2 463.5 256.2 463.8 226.2 461.8 207.8 461.5 203.8 462.5 197.8 466.5 189.2 469.2 184.2 471.8 181.2 475.5 180.8 480.2 181.8 482.5 185.2 485.5 194.2 488.8 208.2 491.5 220.5 491.5 236.8 489.5 241.5 486.8 241.5 484.5 240.2 482.8 241.5 479.5 241.5 476.8 240.5 474.8 242.2 473.5 252.8 472.2 269.5 472.2 276.2 470.2 277.8 470.2 282.5 472.5 287.8 472.8 290.8 471.8 292.5 470.2 293.2 467.8 296.2 465.5ZM483.8 463.5 481.2 456.8 478.2 452.8 467.2 441.5 465.2 440.5 462.8 440.5 458.5 443.8 455.8 448.8 452.5 458.2 450.2 460.8 447.8 462.2 443.2 463.2 430.2 463.2 411.5 461.8 392.8 461.8 383.2 467.2 371.8 471.2 367.8 474.8 366.8 478.8 367.2 480.8 369.5 484.2 373.8 486.8 378.5 488.5 395.5 492.2 414.5 491.2 424.2 489.2 427.8 486.8 427.8 484.8 426.2 482.2 427.5 480.5 426.8 474.5 428.2 473.5 433.8 472.5 442.8 472.5 451.8 473.8 458.5 473.2 467.8 476.2 469.8 474.8 477.8 472.5 479.8 470.2 480.5 467.8 483.8 465.2ZM88.8 432.2 81.2 432.2 81.2 603.2 82.5 601.8 84.5 596.8 87.5 581.2 86.8 578.2 83.5 573.5 83.2 570.2 85.2 566.2 88.8 561.8 90.8 543.2 93.5 539.5 98.8 538.8 100.2 537.5 101.2 534.5 100.5 522.8 92.5 495.5 92.2 488.8 88.5 483.8 85.5 476.5 85.5 473.5 89.2 468.8Z"/>
<path fill-rule="evenodd" fill="#00ff79" d="M431.8 571.8 432.5 573.8 434.2 574.2 435.8 573.2 435.8 571.8 434.5 570.8ZM254.8 578.2 254.5 582.2 256.5 585.2 259.5 587.5 264.8 589.5 276.5 588.8 280.5 590.2 283.8 584.5 283.8 582.8 282.8 581.8 277.8 579.8 266.2 570.8 259.8 572.8ZM246.2 570.8 246.2 572.2 247.8 573.2 249.5 573.2 251.2 571.8 249.2 569.8ZM451.5 568.8 447.2 570.8 444.5 573.5 444.5 574.8 440.5 577.8 439.5 580.8 441.2 584.2 452.5 593.5 455.5 594.8 457.8 593.8 466.5 584.5 467.2 581.8 459.8 575.2 458.8 573.2 455.2 572.2 453.2 568.8ZM292.2 557.8 281.8 550.8 278.8 551.5 272.2 556.5 263.8 558.2 251.5 558.2 227.2 556.2 206.2 556.2 198.2 560.8 189.5 563.5 185.2 565.8 182.8 568.2 181.8 572.5 182.8 574.8 185.2 577.2 192.8 580.5 209.2 584.2 223.8 583.5 232.2 581.8 236.8 579.8 239.2 577.5 238.8 575.2 240.5 573.2 240.5 569.8 239.5 567.5 242.2 565.5 252.5 563.8 263.8 563.8 269.2 564.8 274.2 563.5 277.5 563.5 281.5 564.5 283.5 563.8 286.5 561.2 291.8 559.2ZM477.8 558.2 470.8 554.8 467.8 551.5 465.2 546.2 462.5 544.5 459.5 546.5 454.8 553.8 452.2 555.5 447.2 556.8 430.8 557.5 413.5 556.2 392.2 556.2 385.8 560.2 376.5 563.2 371.8 565.5 368.2 569.8 368.2 573.2 371.8 577.5 381.5 581.2 395.5 584.2 410.2 583.5 417.2 582.2 423.5 579.5 425.2 577.8 425.2 574.8 426.5 573.5 425.8 567.5 428.5 565.5 439.5 564.5 454.5 566.8 460.2 564.5 465.2 563.8 469.2 561.5 476.8 559.5ZM282.2 488.8 281.5 490.5 282.5 493.2 285.2 495.2 286.8 494.5 288.2 492.5 288.5 490.2 285.8 488.8ZM462.2 487.8 460.8 489.8 461.5 499.8 463.5 505.5 465.2 505.8 466.8 504.2 468.2 500.2 468.8 490.5 466.8 488.5ZM431.8 476.8 431.8 478.2 433.2 479.2 434.5 479.2 435.8 477.8 434.8 476.2ZM246.2 477.2 246.8 478.5 250.8 479.8 256.2 479.8 260.8 477.8 259.5 476.2 254.8 475.2 249.8 475.5ZM294.8 464.5 291.5 457.8 287.8 455.2 283.5 455.8 278.8 460.8 274.2 463.8 265.8 465.5 255.8 465.5 227.8 463.2 206.8 462.8 199.2 467.2 191.5 469.5 185.8 472.2 182.5 475.5 181.8 479.5 182.8 481.8 185.2 484.2 195.5 488.2 209.2 490.8 224.8 490.2 233.2 488.5 236.2 487.2 238.8 484.8 238.8 482.2 240.5 479.8 240.5 476.5 239.5 474.5 242.2 472.5 257.2 470.2 272.5 470.5 276.5 469.5 279.8 469.5 284.2 471.5 288.2 471.5 291.5 469.5 292.2 467.8 294.8 465.5ZM482.2 464.5 480.2 459.5 475.8 454.2 466.8 446.8 462.8 445.8 461.2 446.5 458.2 449.8 453.5 460.2 448.2 463.8 443.2 464.8 434.5 464.8 413.2 463.2 392.2 463.2 385.8 467.2 376.5 470.2 371.8 472.5 368.2 476.8 368.2 480.2 371.8 484.5 381.5 488.2 395.5 491.2 410.2 490.5 417.2 489.2 423.8 486.2 425.2 484.5 424.8 482.5 426.5 480.5 425.8 474.2 428.5 472.5 435.8 471.2 445.8 471.2 453.2 473.2 459.5 472.5 463.8 473.8 471.2 473.8 476.8 471.8 478.5 470.2 479.2 467.8 481.8 465.8ZM86.8 432.2 81.2 432.2 81.2 589.2 83.2 586.8 85.2 579.2 82.5 572.5 82.5 569.8 86.8 562.5 87.8 546.2 89.2 538.2 91.8 533.8 95.5 532.8 97.2 531.5 98.2 528.5 96.8 516.5 91.2 497.2 90.8 487.8 85.2 479.5 83.8 476.2 87.2 470.2Z"/>
<path fill-rule="evenodd" fill="#00ff49" d="M255.5 580.2 256.2 583.2 258.8 586.2 265.5 588.8 271.2 588.2 278.5 584.8 279.8 583.2 278.5 580.8 266.5 571.8 260.5 573.5 256.5 577.5ZM431.8 572.2 432.8 573.8 434.8 573.8 435.8 572.5 434.8 571.2 432.8 571.2ZM451.2 570.5 447.5 572.5 442.2 577.8 441.5 581.8 442.5 583.8 446.8 587.8 452.8 591.5 456.2 591.8 459.2 590.2 463.5 585.8 465.2 583.2 465.2 581.2 460.2 576.2 454.8 572.8 453.2 570.5ZM246.5 570.8 246.5 572.2 247.5 572.8 249.8 572.8 250.8 571.8 249.8 570.2ZM187.5 571.5 190.5 573.5 198.8 576.5 201.5 578.8 202.8 581.2 207.2 582.8 212.8 583.5 224.5 582.5 233.2 580.2 237.8 576.8 238.2 574.2 239.2 573.2 238.5 567.2 241.2 564.5 250.8 562.2 253.2 560.8 248.8 559.5 235.2 557.8 214.2 556.8 206.2 557.2 194.8 563.2 187.5 570.5ZM289.8 558.5 282.8 553.5 280.2 553.2 273.2 557.8 265.8 560.8 271.8 563.2 281.5 562.8ZM473.8 558.5 469.5 556.2 463.2 548.8 460.8 549.2 454.5 556.2 450.5 557.8 443.2 559.2 432.8 559.2 410.8 557.2 392.5 557.2 380.5 563.5 373.5 571.5 377.5 573.8 385.5 576.8 387.2 578.2 388.8 581.2 393.2 582.8 396.8 583.5 408.2 582.8 415.5 581.5 422.8 578.2 425.5 572.8 424.8 567.2 427.5 564.5 435.5 562.8 443.2 562.8 452.8 565.5 455.8 565.5 472.5 559.8ZM432.2 476.8 432.8 478.8 435.5 478.2 435.5 476.8 434.5 476.2ZM246.8 477.2 248.8 479.2 252.8 479.8 258.2 479.2 260.2 477.8 259.5 476.5 256.2 475.5 250.8 475.5ZM183.5 478.8 198.2 483.2 202.8 487.8 207.8 489.8 215.8 490.2 225.8 489.2 233.2 487.2 237.5 484.2 237.8 481.8 239.2 479.8 238.5 474.2 241.2 471.5 249.2 469.5 252.2 467.8 246.8 466.2 235.2 464.8 207.2 463.8 204.8 464.5 197.8 468.8 187.2 473.2 184.2 475.8ZM293.5 464.2 289.5 458.5 287.5 457.5 285.2 457.5 271.5 467.8 274.5 469.2 281.5 468.8 284.5 470.2 287.8 470.2 293.5 465.8ZM480.8 464.8 478.2 459.5 473.5 454.8 466.2 450.2 462.8 449.8 459.2 452.8 456.2 459.2 453.5 462.5 445.8 466.5 439.8 467.2 416.8 464.5 392.5 464.2 380.5 470.5 373.5 478.5 377.5 480.8 385.5 483.8 387.2 485.2 388.8 488.2 393.2 489.8 396.8 490.5 408.2 489.8 416.5 488.2 423.2 484.8 425.5 477.8 424.5 474.8 428.2 471.2 439.2 468.8 444.8 468.8 454.2 472.2 460.5 471.8 464.2 473.2 470.5 473.2 475.8 471.2ZM85.2 432.2 81.2 432.2 81.2 577.8 82.2 576.8 81.8 569.5 84.8 563.5 87.5 535.2 89.2 530.8 94.2 526.5 95.2 523.8 94.8 516.8 89.8 496.8 89.8 486.8 83.2 478.2 83.2 475.8 85.5 471.2Z"/>
<path fill-rule="evenodd" fill="#00ff18" d="M393.2 580.5 393.8 581.8 395.8 582.5 408.8 581.8 417.8 579.5 421.2 576.8 396.2 574.8 394.2 576.5ZM207.2 581.2 209.5 582.5 222.8 581.8 230.8 579.8 234.5 577.8 234.8 576.8 210.2 574.8 207.5 577.2ZM256.5 579.5 257.5 583.8 260.8 586.8 265.2 588.2 269.2 587.8 272.5 586.5 275.2 584.5 276.5 582.2 275.8 579.8 267.2 572.8 261.8 573.5 257.8 576.8ZM451.5 571.8 448.5 573.2 443.2 578.2 442.8 582.2 446.5 586.5 449.5 588.5 453.5 590.2 456.2 590.2 459.2 588.5 462.5 585.2 463.8 580.8 459.5 576.5 453.5 572.2ZM432.2 571.8 432.2 572.8 433.5 573.8 435.5 572.8 434.5 571.2ZM246.5 571.2 247.8 572.8 250.5 572.2 250.5 570.8 249.2 570.2ZM386.5 563.8 389.2 568.2 393.2 570.2 416.8 569.8 423.2 568.5 424.8 564.2 428.8 561.2 425.5 559.8 418.2 558.8 393.2 557.8 386.5 561.8ZM201.5 566.5 203.8 568.8 207.2 570.2 230.2 569.8 236.8 568.5 238.8 563.8 242.2 561.2 238.8 559.8 231.8 558.8 207.2 557.8 201.8 560.5 200.2 562.2ZM286.8 558.8 283.2 555.5 279.5 555.2 274.8 558.5 273.5 560.8 275.5 562.2 281.2 561.8 286.2 559.8ZM469.8 558.8 463.8 552.8 461.2 552.5 449.8 561.2 453.8 563.5 457.5 564.2 469.2 560.2ZM393.2 487.5 393.8 488.8 395.8 489.5 406.2 489.2 416.2 487.2 421.2 484.2 396.2 481.8 394.2 483.5ZM207.2 487.8 209.2 489.2 224.5 488.5 230.8 486.8 234.8 484.2 210.2 481.8 207.5 484.2ZM435.5 477.2 433.8 476.2 432.2 477.8 433.2 478.8 434.5 478.8ZM247.2 477.5 247.8 478.5 251.2 479.5 255.8 479.5 259.5 477.8 258.2 476.2 254.5 475.5 248.8 476.2ZM386.5 470.8 389.2 475.2 393.2 477.2 416.5 476.8 423.2 475.5 424.8 471.2 428.5 468.2 425.2 466.8 414.5 465.5 393.2 464.8 386.5 468.8ZM199.8 470.2 201.5 473.8 206.8 477.2 230.5 476.8 236.8 475.5 238.8 470.8 242.2 468.2 237.2 466.5 228.5 465.5 206.5 464.8 201.2 467.8ZM292.5 464.8 290.2 461.2 288.2 459.8 285.5 459.5 278.5 464.8 277.2 467.5 278.2 468.2 287.5 468.5 291.8 466.5ZM450.5 467.5 452.2 469.5 456.2 471.5 461.5 471.2 463.8 472.2 469.2 472.5 472.8 471.5 476.2 469.5 479.5 465.8 479.5 464.5 477.2 460.5 471.5 455.5 467.2 453.2 463.5 452.8 460.2 455.2 456.8 460.8ZM82.5 432.2 81.2 432.2 81.2 563.5 83.2 557.2 84.8 539.8 86.5 530.8 92.5 519.8 92.2 512.5 88.8 498.2 89.5 487.8 88.5 485.5 82.5 478.2 82.5 475.8 83.8 472.5Z"/>
<path fill-rule="evenodd" fill="#18ff00" d="M263.5 573.5 259.8 575.8 257.5 578.5 257.2 581.5 258.5 584.2 260.8 586.2 264.2 587.5 268.2 587.5 272.5 585.5 274.8 582.5 274.2 578.8 267.8 573.8 266.2 573.2ZM451.8 572.8 444.5 577.8 443.8 581.8 444.8 583.8 448.8 587.2 452.5 588.8 456.2 588.8 458.8 587.5 461.5 584.8 462.8 580.8 459.2 576.8 453.8 573.2ZM432.5 571.8 432.8 573.5 435.2 573.2 434.8 571.5 433.5 571.2ZM246.8 571.2 247.5 572.5 249.8 572.5 250.5 571.5 249.5 570.5ZM388.2 561.8 389.5 565.5 392.8 567.5 415.2 567.2 422.8 566.2 421.2 561.5 413.5 559.5 393.8 558.5 390.2 559.8ZM202.2 561.5 202.8 564.8 206.8 567.5 228.8 567.2 236.5 566.2 236.2 563.2 234.8 561.5 227.5 559.5 207.8 558.5 204.5 559.5ZM276.5 560.8 278.2 561.5 281.2 561.2 283.8 560.2 284.5 558.8 282.2 556.8 279.5 556.8 277.5 558.2ZM467.2 558.8 463.8 555.5 461.5 555.2 458.2 557.2 455.8 559.5 455.5 561.2 457.8 562.8 460.2 562.8 466.2 560.8ZM432.5 476.8 432.8 478.5 435.2 478.2 434.5 476.5ZM247.8 477.2 248.5 478.5 252.5 479.5 256.5 479.2 259.2 477.8 258.8 476.8 255.8 475.8 250.8 475.8ZM81.2 472.8 81.2 543.8 82.5 540.8 85.5 526.5 90.2 517.2 90.2 510.2 87.8 499.2 88.8 487.2 87.8 485.2 82.5 479.5ZM388.2 468.8 389.5 472.5 392.8 474.5 421.2 473.8 422.8 472.8 421.2 468.5 410.8 466.2 393.8 465.5 390.2 466.8ZM201.8 468.8 203.5 472.8 206.5 474.5 229.2 474.2 236.5 473.2 236.2 470.2 234.5 468.2 227.5 466.5 206.8 465.5 203.8 466.8ZM291.2 464.8 288.8 462.2 285.2 461.5 282.8 462.8 279.8 466.8 281.8 467.8 286.2 467.8 290.5 466.5ZM453.8 467.8 455.5 469.8 457.8 470.8 462.8 470.5 465.8 471.5 469.2 471.5 474.2 469.5 478.5 465.8 478.5 464.8 477.2 462.5 472.5 458.2 468.5 455.8 464.5 455.2 460.5 457.8 454.2 465.8Z"/>
<path fill-rule="evenodd" fill="#49ff00" d="M446.8 576.5 445.2 578.2 444.8 582.2 447.5 585.5 451.2 587.5 456.2 587.8 458.2 586.8 461.5 582.8 461.8 580.5 461.2 579.2 453.5 573.8 451.8 573.8ZM263.5 574.2 260.5 575.8 258.2 578.5 257.8 581.5 258.8 583.8 261.2 585.8 265.2 587.2 268.5 586.8 271.8 585.2 273.8 582.5 273.5 578.8 267.5 574.2ZM433.2 571.5 432.5 572.8 434.5 573.5 435.2 572.2ZM246.8 571.5 247.8 572.5 250.2 571.8 249.2 570.5 247.8 570.5ZM389.5 561.8 390.2 563.8 392.8 565.8 420.2 564.8 420.2 563.8 416.8 561.5 406.2 559.5 394.2 559.2 391.5 559.8ZM203.5 561.5 204.2 564.2 206.5 565.8 234.2 564.8 233.5 563.2 230.8 561.5 220.2 559.5 207.8 559.2 204.8 560.2ZM279.5 559.5 279.5 560.2 281.8 559.8 281.5 558.8ZM464.5 559.2 462.2 557.5 459.8 558.5 459.2 560.5 461.2 561.5 462.8 561.2ZM81.2 478.8 81.2 526.5 81.8 526.8 88.2 514.8 88.5 509.5 86.8 496.8 88.5 490.8 88.5 488.2 87.2 484.8ZM432.5 477.2 433.2 478.5 435.2 477.8 434.2 476.5ZM248.2 477.2 248.8 478.5 250.8 479.2 255.8 479.2 258.8 477.5 257.8 476.5 251.8 475.8ZM389.5 468.8 390.2 470.8 392.8 472.8 420.2 471.8 420.2 470.8 416.8 468.5 406.2 466.5 394.2 466.2 391.5 466.8ZM203.2 468.8 203.8 470.8 206.5 472.8 234.2 471.8 233.5 470.2 230.8 468.5 220.5 466.5 207.2 466.2 204.5 467.2ZM289.5 464.8 287.8 463.5 285.8 463.2 284.2 463.8 282.2 466.2 283.5 467.2 288.8 466.5ZM456.2 467.8 458.8 470.2 468.5 470.5 471.2 469.8 476.8 466.5 477.2 464.5 470.8 458.8 465.5 457.2 462.8 458.2 456.8 464.8Z"/>
<path fill-rule="evenodd" fill="#79ff00" d="M447.8 576.5 445.5 579.5 445.5 581.5 446.2 583.2 449.2 585.8 452.5 587.2 455.5 587.2 459.8 584.2 460.8 582.2 460.8 579.8 456.8 576.2 452.5 574.8ZM259.5 577.2 258.5 579.2 258.8 582.8 260.8 585.2 262.8 586.2 267.8 586.5 269.8 585.8 273.2 582.2 273.2 579.5 272.2 577.8 267.8 574.8 264.5 574.5ZM434.2 571.5 432.8 571.8 432.8 573.2 434.8 572.8ZM249.8 571.2 248.5 570.5 247.2 571.8 248.8 572.5ZM390.8 561.5 391.2 562.8 393.2 564.5 416.5 563.5 413.2 561.5 405.2 560.2 394.5 559.8 392.5 560.2ZM204.8 561.2 205.2 563.2 207.2 564.5 230.2 563.5 229.5 562.5 226.8 561.5 219.2 560.2 208.2 559.8ZM81.2 480.2 81.2 515.5 82.2 517.2 83.5 517.2 85.2 515.2 86.5 511.5 85.8 497.2 88.2 489.2 86.5 484.5ZM433.2 476.8 432.8 478.2 434.2 478.5 434.8 477.2ZM248.5 477.2 249.2 478.5 251.8 479.2 256.5 478.8 258.2 477.8 257.8 476.8 256.2 476.2 250.5 476.2ZM390.8 468.5 391.2 469.8 393.2 471.5 416.5 470.5 413.2 468.5 405.2 467.2 394.5 466.8 392.5 467.2ZM204.5 468.5 204.8 469.8 206.8 471.5 230.2 470.5 229.5 469.5 225.8 468.2 219.5 467.2 207.2 466.8ZM457.8 467.2 460.2 469.5 469.2 469.2 475.5 466.5 475.8 464.8 471.5 460.8 468.8 459.5 465.2 459.2 462.5 460.5 459.5 463.5Z"/>
<path fill-rule="evenodd" fill="#aaff00" d="M447.2 577.8 446.2 580.2 446.8 582.8 451.5 586.2 454.8 586.5 456.8 585.8 459.2 583.8 460.2 581.5 459.5 578.8 455.2 575.8 450.8 575.8ZM260.8 576.5 259.2 578.5 258.8 581.5 259.8 583.5 262.2 585.5 267.5 586.2 270.5 584.8 272.2 582.8 272.5 579.5 270.2 576.5 265.8 574.8ZM432.8 572.2 433.2 573.2 434.8 572.8 434.5 571.8ZM247.5 571.2 247.8 572.2 249.8 571.8 249.5 570.8ZM392.5 561.5 393.8 562.8 407.5 561.8 401.5 560.8 393.5 560.8ZM206.5 561.2 206.5 562.2 207.5 562.8 221.2 561.8 215.2 560.8ZM81.2 481.2 81.2 505.8 82.2 508.8 83.2 509.5 84.5 505.8 84.2 498.8 87.2 492.5 87.5 487.2 83.5 482.2ZM432.8 477.2 433.2 478.2 434.8 477.8 434.2 476.8ZM248.8 477.2 249.2 478.2 250.8 478.8 256.2 478.8 257.8 477.8 257.5 476.8 255.5 476.2 251.2 476.2ZM392.5 468.5 393.8 469.8 407.5 468.8 401.5 467.8 393.5 467.8ZM206.2 468.5 207.2 469.8 221.8 468.8 216.2 467.8 206.8 467.8ZM459.8 467.5 460.5 468.5 463.2 469.2 468.8 468.5 473.5 466.8 474.2 464.8 469.2 461.2 465.5 460.8 462.8 462.2 460.5 464.5Z"/>
<path fill-rule="evenodd" fill="#dbff00" d="M447.8 578.2 447.2 581.8 450.5 585.2 452.8 585.8 455.8 585.5 459.2 582.2 458.8 578.8 455.8 576.5 451.5 576.2ZM259.8 578.2 259.8 582.8 261.8 584.8 264.5 585.8 267.2 585.8 270.2 584.5 272.2 581.2 271.2 577.8 267.2 575.5 262.8 575.8ZM433.2 571.8 432.8 572.5 434.2 573.2 434.5 572.2ZM247.5 571.5 248.2 572.2 249.5 571.8 249.2 570.8ZM81.2 481.8 81.2 497.8 82.2 498.2 84.8 495.8 86.8 492.2 87.2 487.5 86.2 485.2 84.2 483.2ZM433.5 476.8 433.2 477.8 434.2 478.2 434.5 477.2ZM249.2 477.2 249.5 478.2 251.2 478.8 255.5 478.8 257.5 477.8 257.2 476.8 254.5 476.2ZM461.5 466.5 462.5 468.2 465.2 468.5 471.2 467.2 472.5 466.2 472.5 465.2 469.5 462.8 465.5 462.5 463.5 463.5Z"/>
<path fill-rule="evenodd" fill="#fff300" d="M449.5 577.5 447.8 579.8 447.8 581.5 449.5 583.8 452.5 585.2 454.5 585.2 457.8 583.2 458.5 579.8 457.2 577.8 454.2 576.5ZM260.8 577.5 259.8 579.2 259.8 581.8 262.5 584.8 266.8 585.5 269.8 584.2 271.2 582.5 271.5 579.5 268.2 576.2 263.8 575.8ZM433.2 572.2 433.2 572.8 434.5 572.8 434.5 572.2ZM247.8 571.2 247.8 571.8 249.5 571.5ZM81.2 482.5 81.2 496.5 82.5 496.5 85.5 493.8 86.8 490.8 86.8 487.8 84.5 483.8ZM434.2 477.2 433.2 477.8 433.8 478.2ZM249.5 477.2 249.8 478.2 252.2 478.8 257.2 477.8 255.8 476.5 250.8 476.5ZM464.2 465.5 464.8 467.5 470.2 466.5 470.2 465.5 467.8 464.2Z"/>
<path fill-rule="evenodd" fill="#ffc200" d="M449.2 578.8 448.5 581.2 451.5 584.2 454.2 584.5 456.5 583.5 457.5 582.2 457.2 578.8 454.8 577.2 451.8 577.2ZM260.8 578.2 260.2 581.5 263.5 584.8 267.8 584.8 270.8 582.2 270.8 579.2 268.2 576.5 263.8 576.2ZM433.2 572.5 434.2 572.8 434.2 572.2ZM248.2 571.2 248.2 571.8 249.2 571.5ZM81.2 483.2 81.2 495.5 82.5 495.5 85.2 493.5 86.5 490.5 86.5 487.8 83.8 483.8ZM249.8 477.2 251.2 478.5 255.5 478.5 256.8 477.8 256.8 477.2 255.2 476.5Z"/>
<path fill-rule="evenodd" fill="#ff9200" d="M449.8 579.2 449.5 581.5 451.8 583.5 454.8 583.5 456.8 581.5 456.8 579.8 454.5 577.8 451.8 577.8ZM261.5 577.8 260.5 581.2 263.5 584.5 267.5 584.5 270.5 581.8 269.8 578.2 267.5 576.5 263.8 576.5ZM81.5 483.5 81.2 494.8 82.5 494.8 85.5 492.2 86.2 487.8 84.5 484.8ZM250.2 477.5 251.5 478.5 256.5 477.8 256.5 477.2 254.5 476.5 252.2 476.5Z"/>
<path fill-rule="evenodd" fill="#ff6100" d="M451.5 578.8 450.5 579.8 450.5 581.5 451.5 582.5 454.2 582.8 455.8 581.5 454.8 578.8ZM261.5 578.5 261.2 581.8 263.8 584.2 267.5 584.2 269.8 582.2 270.2 579.8 268.2 577.2 263.8 576.8ZM81.2 484.2 81.2 494.2 82.5 494.2 84.8 492.5 85.8 487.8 83.8 484.8ZM250.5 477.5 252.5 478.5 256.2 477.8 255.2 476.8 251.5 476.8Z"/>
<path fill-rule="evenodd" fill="#ff3100" d="M452.2 579.8 452.2 581.5 454.2 581.5 454.5 580.5 453.8 579.8ZM265.2 576.8 261.8 578.8 261.5 581.5 263.2 583.5 265.8 584.2 268.5 583.2 269.8 580.5 268.5 577.8ZM81.2 484.5 81.2 493.5 82.8 493.5 84.8 491.8 85.5 488.2 83.2 484.8ZM250.8 477.5 251.5 478.2 255.8 477.8 254.8 476.8Z"/>
<path fill-rule="evenodd" fill="#ff0000" d="M262.8 578.2 261.8 579.8 262.8 582.8 267.2 583.5 268.8 582.2 269.2 579.5 267.8 577.8 265.5 577.2ZM81.5 484.8 81.2 493.2 82.2 493.2 84.5 491.5 85.2 488.2 83.5 485.5ZM251.2 477.5 252.2 478.2 255.5 477.5 253.8 476.8Z"/>
<ellipse cx="109.9" cy="478.5" rx="27.6" ry="10.2" fill="#fff"/>
<ellipse cx="211.3" cy="478.5" rx="27.9" ry="10.2" fill="#fff"/>
<ellipse cx="295.1" cy="478.5" rx="27.2" ry="10.2" fill="#fff"/>
<ellipse cx="397.5" cy="478.5" rx="27.6" ry="10.2" fill="#fff"/>
<ellipse cx="481.3" cy="478.5" rx="27.2" ry="10.2" fill="#fff"/>
<ellipse cx="109.9" cy="571.5" rx="27.6" ry="10.2" fill="#fff"/>
<ellipse cx="211.3" cy="571.5" rx="27.9" ry="10.2" fill="#fff"/>
<ellipse cx="295.1" cy="571.5" rx="27.2" ry="10.2" fill="#fff"/>
<ellipse cx="397.5" cy="571.5" rx="27.6" ry="10.2" fill="#fff"/>
<ellipse cx="481.3" cy="571.5" rx="27.2" ry="10.2" fill="#fff"/>
<rect x="626.20" y="432.00" width="428.00" height="185.70" fill="#0000ff"/>
<path fill-rule="evenodd" fill="#0031ff" d="M626.4 432.2 626.4 617.5 1054.0 617.5 1054.0 432.2ZM855.0 579.5 856.4 577.8 861.0 578.2 857.4 579.8ZM669.4 579.5 670.7 577.8 675.7 578.2 671.0 580.2ZM855.0 486.5 856.4 485.2 860.7 485.5 856.4 487.2ZM669.4 486.8 671.0 484.8 675.7 485.2 673.0 486.8Z"/>
<path fill-rule="evenodd" fill="#0061ff" d="M626.4 432.2 626.4 617.5 726.4 617.5 727.7 610.5 732.0 603.5 737.0 599.5 744.7 596.8 754.7 597.2 763.4 601.2 767.4 605.2 770.4 610.5 771.4 617.5 912.7 617.5 914.7 612.8 918.7 608.8 922.7 606.5 930.7 604.5 939.7 605.2 946.4 607.8 951.0 611.8 953.7 617.5 1054.0 617.5 1054.0 432.2 954.7 432.2 951.7 437.5 947.4 440.8 941.4 443.2 935.4 444.2 926.0 443.5 919.0 440.8 913.7 436.2 912.0 432.2 775.4 432.2 773.0 439.5 769.7 443.2 762.7 447.2 753.0 449.2 742.0 448.5 734.4 445.2 728.7 439.5 726.4 432.2ZM1052.0 575.8 1048.0 578.8 1040.4 580.5 1039.0 579.8 1040.0 577.5 1039.7 576.5 1027.7 575.8 1025.7 574.8 1031.0 573.8 1047.4 573.5 1049.0 575.5ZM1048.4 566.8 1048.4 568.2 1047.4 569.2 1030.7 568.8 1025.4 568.2 1024.7 567.5 1028.0 566.5 1047.4 565.8ZM838.7 567.5 846.7 564.8 845.4 560.5 856.0 561.2 861.7 562.8 865.4 565.2 863.7 568.8 864.0 570.8 866.0 573.2 868.0 574.2 864.7 577.5 860.4 579.8 856.4 580.8 848.0 580.8 848.0 577.8 847.4 577.2 840.0 575.8 839.0 574.8 847.7 572.8 848.7 571.8 848.7 570.5ZM645.0 561.5 650.0 560.2 660.7 559.8 669.4 560.8 675.7 562.5 680.0 565.2 678.7 567.8 678.7 570.2 679.7 572.2 682.7 574.5 678.0 578.5 671.4 580.8 652.7 581.5 646.0 580.5 645.0 579.8 645.7 572.2ZM911.0 521.8 913.7 517.2 918.0 513.5 925.4 510.5 935.0 509.8 943.4 511.8 948.0 514.5 952.4 519.2 954.0 525.2 953.4 528.5 951.7 531.5 946.4 536.2 938.0 539.2 927.4 539.5 919.7 537.2 913.4 532.2 911.0 527.8ZM730.0 512.5 736.0 507.2 742.7 504.5 752.7 503.8 761.0 505.8 767.0 509.5 772.0 516.2 773.4 520.8 773.4 525.2 772.0 529.8 770.0 533.2 766.4 536.8 762.0 539.5 757.4 541.2 747.0 542.2 739.4 540.5 734.0 537.5 730.0 533.5 727.7 529.5 726.4 523.5 726.7 519.8ZM1026.0 482.2 1029.7 481.2 1047.4 480.8 1049.0 482.8 1051.7 483.2 1046.7 486.5 1040.0 487.5 1039.4 486.8 1040.4 484.5 1040.0 483.5 1030.4 483.2ZM1048.4 474.2 1047.4 476.2 1030.0 475.8 1025.7 474.8 1030.7 473.5 1046.4 472.8ZM843.0 474.5 850.4 472.2 849.4 467.8 858.0 468.8 862.0 470.2 865.4 472.5 864.0 474.5 863.7 477.2 864.7 479.2 868.0 481.5 864.0 485.2 860.7 486.8 857.0 487.8 851.4 487.5 851.4 484.5 843.4 482.2 845.0 481.2 851.4 480.2 852.7 479.2 852.7 477.8 851.4 476.8 844.0 475.5ZM646.0 468.8 647.7 467.8 652.4 467.2 663.0 467.2 676.0 469.8 680.0 472.2 678.7 475.2 678.7 477.5 682.7 481.5 678.4 485.5 672.0 487.8 651.0 488.5 645.7 487.5 645.0 484.8Z"/>
<path fill-rule="evenodd" fill="#0092ff" d="M626.4 432.2 626.4 617.5 680.7 617.5 681.7 613.2 684.7 606.8 687.7 602.8 694.0 597.2 704.7 591.5 711.4 589.5 720.7 588.2 777.7 590.5 791.0 593.2 797.7 597.2 802.0 602.2 805.7 610.2 807.0 617.5 871.4 617.5 872.7 613.2 876.4 607.2 881.4 601.8 887.4 597.5 900.4 592.2 912.4 590.5 950.7 591.8 960.7 592.8 969.0 594.8 976.0 598.5 980.7 602.8 985.7 611.2 987.4 617.5 1054.0 617.5 1054.0 575.5 1049.7 579.2 1045.0 580.8 1025.4 581.5 1023.0 580.5 1022.0 577.2 1015.4 574.8 1021.0 573.2 1022.0 572.2 1022.4 570.2 1021.7 569.5 1016.4 568.2 1016.0 567.5 1023.4 565.5 1024.0 564.8 1024.4 560.5 1026.0 559.8 1036.4 559.8 1049.0 562.8 1053.0 565.8 1052.4 569.2 1054.0 571.2 1054.0 482.5 1049.7 486.2 1045.4 487.8 1027.7 488.8 1023.0 488.2 1022.0 484.5 1015.7 482.2 1017.0 481.2 1022.4 479.8 1023.4 477.2 1019.0 474.8 1025.0 472.2 1026.0 467.5 1029.7 466.8 1041.4 467.8 1049.4 470.2 1052.7 472.5 1052.4 476.5 1054.0 478.5 1054.0 432.2 986.7 432.2 985.4 436.5 982.0 442.2 976.4 447.5 969.7 450.8 957.0 453.8 937.4 455.2 924.0 457.2 906.0 456.8 896.4 454.8 889.7 452.5 882.7 448.8 877.7 445.2 872.7 439.8 868.7 432.2 809.0 432.2 807.4 438.5 803.4 444.8 798.0 449.5 790.7 453.2 778.0 456.2 751.4 457.5 734.7 460.2 722.4 460.2 715.0 459.2 706.4 456.5 700.4 453.5 694.4 449.2 690.0 444.5 687.0 439.5 685.0 432.2ZM814.7 573.5 819.4 574.2 820.0 575.2 816.7 575.8 815.0 574.8ZM814.0 568.8 814.0 567.8 815.4 566.8 818.0 566.8 819.7 567.8 815.4 569.2ZM830.7 575.2 831.7 574.2 835.7 573.2 837.0 570.8 836.0 569.2 833.0 568.5 832.0 567.5 837.7 565.5 838.4 560.8 842.4 559.5 853.0 559.8 863.0 562.5 867.7 566.5 867.4 569.5 869.7 571.2 869.4 574.2 864.0 580.2 858.0 581.5 841.4 581.8 837.0 581.2 835.7 576.8ZM636.7 577.8 638.0 563.2 641.4 561.2 649.0 559.5 662.7 559.2 671.7 560.5 679.7 563.5 682.4 566.2 682.0 569.2 684.7 571.5 684.4 573.8 679.0 580.2 673.0 581.5 651.4 582.2 642.0 580.5ZM867.0 523.2 869.0 519.5 873.4 515.2 881.7 509.5 894.0 503.8 907.4 499.8 927.0 497.8 967.4 498.2 973.7 498.8 979.7 500.5 984.0 503.2 989.4 509.2 992.4 516.5 992.7 529.2 991.4 534.2 989.0 538.2 982.7 543.8 976.4 546.5 965.4 548.2 919.7 549.5 904.4 546.8 888.4 541.2 880.4 537.2 873.0 532.2 868.0 526.8ZM677.4 516.8 678.7 511.5 681.4 506.5 684.7 502.8 691.0 498.5 698.4 495.5 706.4 493.5 722.0 492.8 753.0 495.8 784.0 496.2 796.4 498.2 802.4 501.5 806.0 505.8 808.7 512.5 809.4 523.8 808.7 529.2 805.0 536.8 799.7 541.5 791.7 544.8 774.0 547.5 755.4 547.8 729.4 550.5 717.4 550.2 699.4 546.8 692.4 544.2 685.7 540.2 681.0 535.5 678.7 531.5 677.4 526.5ZM815.0 473.8 818.0 473.5 822.0 474.8 817.7 476.8 818.4 479.5 822.7 481.8 822.0 482.8 818.0 483.8 814.4 481.8 813.4 476.8 813.7 475.2ZM835.4 482.2 841.0 479.5 841.4 476.8 837.7 474.8 841.4 473.2 842.4 472.2 842.7 467.8 845.7 466.8 855.7 467.5 863.4 469.8 867.4 473.2 867.4 476.8 869.7 478.5 869.0 481.8 864.4 487.2 858.7 488.5 841.4 488.5 840.4 487.8 840.4 484.5ZM637.0 485.2 637.4 476.5 639.4 469.8 641.4 468.5 648.4 466.8 658.0 466.2 673.7 468.2 680.4 471.2 682.7 474.2 682.0 475.2 682.4 477.2 684.7 478.8 683.4 482.5 678.7 487.5 672.0 488.8 649.7 489.2 642.7 487.8Z"/>
<path fill-rule="evenodd" fill="#00c2ff" d="M822.7 570.5 822.7 572.5 823.7 573.2 827.0 573.2 828.0 572.5 828.0 569.8 823.7 569.5ZM1004.4 570.2 1004.0 572.5 1005.0 573.2 1009.0 573.5 1011.7 572.5 1011.7 569.8 1007.0 569.2ZM866.0 469.5 870.4 477.5 870.4 483.2 896.4 484.2 899.4 486.5 901.7 489.8 910.7 493.2 931.7 493.2 941.7 494.8 977.0 494.5 984.7 496.2 987.7 497.8 991.4 501.5 994.0 505.8 996.7 512.5 998.0 521.2 997.4 532.2 994.0 540.5 988.0 547.5 983.4 550.2 973.4 552.2 940.4 552.2 926.4 554.8 915.4 555.2 900.0 560.5 894.0 561.5 867.7 561.5 866.0 562.5 870.4 570.2 870.4 576.2 895.4 576.8 898.0 577.8 901.4 582.5 907.0 584.8 931.4 586.2 939.7 587.8 969.0 589.2 978.4 588.8 982.4 589.5 985.0 590.8 987.0 593.5 987.7 600.5 991.7 610.2 993.0 617.5 1030.4 617.5 1031.7 605.5 1034.4 596.8 1037.0 594.2 1052.7 585.8 1053.0 584.8 1051.0 583.8 1039.4 581.8 1033.7 582.5 1022.0 581.8 1017.4 580.5 1016.0 578.2 1013.4 576.5 1009.4 575.8 1003.4 576.2 1000.4 574.2 999.4 571.5 999.7 567.8 1002.4 566.2 1012.4 566.5 1016.4 565.8 1019.7 563.8 1021.0 560.5 1028.0 558.8 1038.4 559.2 1046.4 560.8 1052.0 563.5 1054.0 566.2 1054.0 556.5 1049.4 552.2 1045.7 546.2 1042.7 536.8 1041.4 526.5 1042.0 516.5 1044.7 505.8 1048.4 498.8 1054.0 493.2 1054.0 491.5 1051.4 490.5 1041.4 489.2 1026.0 489.5 1016.4 487.5 1015.0 484.8 1012.7 483.5 1003.4 483.5 1001.7 482.8 1000.4 481.5 999.7 477.8 1000.4 477.5 1002.7 479.8 1005.7 480.8 1012.7 480.5 1015.7 477.2 1015.4 476.2 1013.4 475.2 1013.7 474.5 1020.4 472.5 1022.7 467.5 1028.0 466.2 1038.4 466.5 1046.7 468.2 1051.4 470.2 1054.0 473.2 1054.0 461.5 1052.4 456.5 1051.7 443.2 1050.0 437.5 1047.0 432.2 992.4 432.2 990.4 440.5 985.4 450.5 982.0 454.2 978.4 455.8 963.0 458.2 937.7 459.2 925.7 462.2 911.4 463.5 900.4 467.5 895.4 468.5 868.7 468.5ZM973.4 567.8 976.0 566.5 984.4 567.2 985.0 567.8 982.7 569.5 982.0 573.2 986.7 574.8 983.4 575.8 974.7 575.5 974.0 574.5 975.0 572.8ZM1000.4 475.8 1001.0 474.5 1002.4 474.8ZM973.4 474.8 975.0 473.8 984.7 474.5 985.0 475.2 982.7 476.5 982.0 480.5 986.4 481.5 986.7 482.2 980.4 483.2 974.4 482.5 974.0 481.8 975.0 480.2ZM850.4 432.2 815.7 432.2 814.7 441.5 813.0 448.5 808.7 454.2 803.7 456.5 798.4 456.8 791.4 458.8 782.7 459.8 752.0 460.5 738.4 464.5 717.7 466.2 709.0 468.5 683.7 468.5 681.0 469.2 685.4 477.8 685.0 483.2 711.0 484.2 716.4 486.8 747.0 491.5 753.7 493.2 794.0 493.2 799.4 493.8 807.4 496.2 810.7 499.2 813.0 505.8 814.7 515.2 814.4 528.2 812.4 536.2 808.0 543.5 802.0 548.5 794.7 550.5 786.7 551.5 750.7 552.2 740.7 554.8 724.7 556.5 716.0 559.8 707.7 561.5 681.4 561.8 681.0 562.8 685.4 570.8 685.0 575.8 709.7 576.8 713.0 578.2 715.4 582.2 745.4 584.8 754.7 586.8 786.4 587.2 801.7 588.8 804.4 590.2 806.0 592.2 806.7 597.2 808.7 601.2 811.0 609.2 812.0 617.5 841.0 617.5 841.7 600.8 843.0 592.5 845.7 588.8 852.4 585.2 853.4 583.2 840.4 582.5 832.7 581.2 830.4 579.8 830.0 577.8 829.0 576.8 827.0 576.2 818.7 577.2 813.7 574.8 812.7 570.8 813.0 567.8 816.0 565.8 818.7 565.5 824.0 566.5 832.0 565.8 834.0 564.5 835.0 560.8 836.7 559.8 849.0 557.8 846.0 549.2 845.0 540.5 846.4 507.8 847.7 499.5 849.0 497.2 854.0 492.5 854.4 490.5 852.7 489.5 842.7 489.5 836.0 488.5 834.7 487.5 834.7 485.5 833.7 483.8 828.7 482.2 824.0 483.5 822.0 485.5 818.7 484.8 812.4 482.2 813.0 481.2 812.4 475.2 813.7 473.8 817.7 472.2 826.4 474.2 827.4 475.2 824.4 476.8 824.7 480.2 827.4 481.5 830.0 481.5 834.0 479.8 835.4 476.5 833.4 474.8 838.4 472.5 840.4 467.2 844.7 466.2 852.4 465.8 853.4 465.2 851.0 460.5 849.7 453.2ZM787.4 567.5 789.7 566.5 795.4 566.8 795.0 567.8 792.4 569.5 792.4 571.2 793.7 572.8 807.0 574.8 803.4 575.8 788.4 575.5 787.7 574.8 788.7 572.8ZM787.4 474.8 788.7 473.8 791.4 473.5 805.0 474.5 805.0 475.2 798.0 476.2 797.0 480.2 801.7 481.2 811.0 481.5 812.0 482.2 805.4 483.2 789.0 482.8 787.7 481.8 788.7 479.8ZM626.4 432.2 626.4 617.5 655.0 617.5 652.7 596.8 652.7 590.2 654.7 584.2 641.4 581.2 636.7 579.2 633.7 576.8 635.4 563.8 641.0 560.5 653.0 557.2 651.4 552.2 650.7 543.5 650.7 506.2 651.4 497.5 654.0 491.5 642.0 488.5 635.7 485.5 634.4 484.2 634.4 477.8 636.7 470.8 639.7 468.5 645.4 466.5 658.7 464.2 659.0 458.2 665.7 443.2 669.4 432.2Z"/>
<path fill-rule="evenodd" fill="#00f3ff" d="M809.0 569.5 809.4 572.2 811.7 573.2 811.7 569.2ZM793.0 569.5 793.0 571.2 795.4 572.8 799.4 572.5 801.0 570.8 801.0 569.8 798.4 568.2 795.0 568.2ZM869.7 565.5 869.7 567.2 872.0 571.8 898.4 571.5 900.7 569.5 900.7 567.5 899.0 565.8ZM684.4 565.8 686.7 571.8 713.7 571.5 715.7 569.5 715.4 566.8 712.7 565.5ZM842.4 490.8 833.4 488.5 829.0 484.2 827.4 484.2 824.4 486.5 813.0 484.5 809.7 487.5 810.4 488.8 815.7 492.2 819.0 495.8 820.7 499.5 822.0 507.8 820.4 535.2 817.0 547.2 813.7 551.8 808.7 554.2 802.7 555.2 785.4 554.5 750.0 554.8 743.4 558.2 732.4 561.5 727.4 564.2 724.0 568.5 723.7 571.8 725.0 576.2 728.0 578.8 733.0 580.8 753.7 584.8 787.4 584.2 799.4 581.5 805.0 582.2 812.0 585.8 815.7 590.2 817.0 597.2 817.0 617.5 830.4 617.5 831.0 605.2 833.0 593.2 834.4 589.2 838.0 584.5 838.0 583.5 813.7 576.2 808.0 577.2 803.0 579.2 800.0 579.2 787.4 576.5 785.7 575.2 787.0 573.2 786.7 569.5 785.7 567.5 787.4 566.2 790.7 565.5 813.7 566.5 820.4 563.5 828.0 564.2 831.0 562.8 833.0 560.5 839.4 557.8 835.0 539.5 834.7 527.5 836.7 501.5 838.7 496.2ZM869.7 472.8 870.7 476.8 872.4 479.2 899.0 478.5 900.7 476.8 900.4 474.2 898.4 472.8ZM684.4 472.8 685.7 477.2 687.4 479.2 712.7 478.8 715.7 476.8 715.7 474.8 713.7 472.8ZM1000.0 432.2 999.7 440.2 998.0 446.5 992.7 456.2 989.7 459.5 987.4 460.8 983.0 461.8 962.7 461.2 936.7 461.8 929.0 465.5 919.7 468.2 914.7 470.5 911.4 473.2 910.0 475.8 910.4 481.8 913.4 485.5 917.7 487.8 925.4 490.2 940.4 492.5 985.4 490.5 991.7 492.5 995.4 494.8 997.4 497.2 998.4 499.8 999.0 504.8 1002.0 512.2 1003.4 519.5 1002.7 532.5 996.4 547.8 992.4 552.2 985.0 554.5 941.4 554.5 935.7 555.2 927.7 558.8 917.7 561.8 913.0 564.5 911.0 566.5 910.0 568.8 910.0 573.8 912.7 577.8 919.0 581.2 940.0 585.5 962.4 585.5 980.7 583.2 985.7 583.5 989.7 584.8 994.4 589.2 998.7 599.5 999.7 603.8 1000.0 617.5 1015.7 617.5 1016.0 605.2 1017.0 600.2 1022.0 588.2 1025.4 583.8 1000.0 575.5 999.0 574.5 998.4 567.8 1005.0 564.5 1011.0 564.8 1013.0 564.2 1017.7 560.8 1024.7 558.5 1025.7 557.5 1020.7 547.2 1017.7 537.8 1016.7 530.8 1016.7 514.5 1018.7 502.2 1021.0 495.5 1025.4 490.8 999.0 482.5 998.7 477.8 999.4 475.2 1001.7 473.5 1011.0 473.8 1017.0 472.2 1020.7 467.5 1027.4 465.2 1028.0 462.8 1025.4 453.5 1019.4 442.8 1017.0 432.2ZM971.7 567.5 972.7 566.5 977.7 565.5 995.7 567.2 995.7 568.2 990.0 569.2 988.7 570.2 990.0 572.8 997.4 574.8 994.0 576.2 983.4 577.5 974.7 576.8 972.0 575.5 973.0 571.5ZM971.7 474.8 973.0 473.5 975.7 472.8 993.0 474.2 994.0 474.8 993.4 475.5 988.7 476.8 989.4 479.5 998.4 482.2 995.7 483.2 985.7 484.5 974.4 483.8 972.0 482.5 973.0 478.5ZM839.7 432.2 825.7 432.5 825.4 440.5 823.7 447.2 818.7 455.5 812.4 460.8 805.0 462.5 750.7 462.8 743.4 466.2 732.0 468.8 727.0 471.5 724.0 475.5 723.7 479.2 724.4 482.2 726.4 484.5 734.4 487.8 755.7 491.8 794.4 489.8 798.7 488.2 799.0 487.2 795.7 485.2 787.0 483.5 785.7 482.2 787.0 480.2 786.7 476.5 785.7 474.5 787.7 473.2 800.7 472.8 812.7 473.5 819.4 470.8 821.7 470.8 827.7 473.5 834.0 473.2 836.4 471.5 838.4 467.2 844.0 464.8 843.4 459.2 839.4 444.5ZM626.4 432.2 626.4 617.5 638.7 617.5 638.4 581.5 631.7 575.8 631.4 574.2 633.4 564.8 639.7 559.2 639.0 551.2 639.0 489.5 638.0 487.8 632.7 483.8 632.0 480.5 632.7 476.2 635.0 471.2 641.4 466.8 642.4 465.2 644.0 455.8 648.4 446.5 650.0 440.8 650.4 432.2Z"/>
<path fill-rule="evenodd" fill="#00ffdb" d="M817.7 578.8 816.7 579.8 816.7 581.8 821.7 593.2 823.4 595.5 825.7 595.8 827.4 594.5 832.0 583.2 826.0 580.2ZM996.7 577.5 995.0 580.2 995.0 582.2 1000.7 592.5 1003.7 595.5 1006.7 596.8 1009.0 596.8 1012.4 595.2 1015.7 591.2 1018.7 584.8 1018.7 582.8 1001.0 576.5ZM793.4 569.8 793.4 570.8 795.7 572.5 797.7 572.5 800.0 571.2 799.7 569.2 798.4 568.5 795.0 568.5ZM835.7 557.2 830.0 543.8 828.4 542.2 826.0 541.8 823.7 543.8 819.4 553.2 812.0 556.8 805.4 558.2 794.7 558.2 769.4 556.2 752.4 556.2 730.0 564.8 726.4 569.2 726.4 573.2 727.0 574.8 731.4 578.5 743.0 581.8 754.7 583.8 776.0 582.5 780.4 581.5 784.4 579.2 785.0 578.2 784.4 574.8 785.7 573.5 785.7 569.5 784.4 567.2 788.0 564.5 794.4 563.5 805.7 563.5 814.4 565.2 821.4 562.5 833.4 559.8 835.7 558.5ZM1021.4 557.8 1016.7 551.2 1013.7 544.5 1011.4 542.2 1008.4 541.5 1005.0 543.8 1001.4 551.2 999.4 553.5 993.4 556.2 986.7 557.5 937.4 556.5 930.4 559.8 921.7 562.2 916.7 564.5 912.7 568.5 912.4 572.8 913.4 575.2 915.4 577.2 923.4 580.8 940.0 584.2 955.0 583.8 965.4 581.8 969.4 580.2 971.4 577.5 970.4 574.8 972.0 572.8 971.7 569.2 970.4 567.5 974.4 564.5 982.4 563.8 999.4 566.2 1006.7 563.2 1019.7 559.5ZM821.0 487.2 820.4 487.8 820.7 490.8 825.0 498.5 827.0 500.2 830.7 499.5 833.7 495.5 835.7 490.5 829.4 487.5ZM999.0 484.5 997.7 488.2 1001.0 493.2 1004.7 502.2 1007.4 505.2 1010.0 505.5 1011.4 504.8 1014.4 500.8 1017.7 490.2 1009.4 486.5 1001.4 484.2ZM840.7 462.2 839.7 458.5 836.7 453.2 832.7 450.2 830.0 450.2 827.4 451.5 818.0 461.2 811.0 464.8 801.4 465.8 784.4 464.2 751.7 464.2 731.4 471.2 726.7 475.5 726.4 480.5 729.7 484.5 736.4 487.2 753.4 490.5 765.0 490.5 773.7 489.5 781.0 487.8 784.7 485.8 784.4 481.8 785.7 480.5 785.7 476.8 784.4 474.5 787.7 471.8 800.4 470.2 808.0 470.2 815.4 471.5 821.0 469.8 824.0 469.8 827.4 471.8 831.0 472.5 833.7 471.5 836.4 467.5 840.7 465.2ZM1023.0 463.8 1019.7 456.8 1015.7 452.2 1011.0 449.2 1006.4 448.8 1001.4 451.5 994.7 459.8 989.7 463.5 983.7 464.8 951.0 463.2 937.4 463.5 930.7 466.8 920.4 469.8 916.4 471.8 912.7 475.8 912.4 480.2 914.0 483.2 916.7 485.2 926.7 488.8 940.0 491.2 960.0 490.2 967.7 488.2 970.4 486.5 971.4 484.8 970.4 482.2 972.0 479.8 971.7 476.5 970.4 474.5 973.0 472.2 976.7 471.2 984.4 471.2 996.7 473.8 1000.0 473.8 1003.0 472.5 1010.0 472.8 1014.7 471.2 1018.4 467.8 1022.7 465.8ZM639.7 432.2 626.4 432.2 626.4 617.5 632.7 617.5 632.0 608.2 634.4 579.8 630.0 574.8 629.4 572.8 631.7 565.8 636.4 560.5 635.0 544.2 635.0 487.2 630.7 482.5 630.0 480.2 632.0 473.8 638.7 467.5 639.7 464.8 640.0 459.8 639.0 453.5 640.4 442.8Z"/>
<path fill-rule="evenodd" fill="#00ffaa" d="M822.0 580.8 821.7 583.8 823.0 586.8 824.4 588.2 826.0 587.8 828.0 584.5 828.0 582.5 825.0 580.8ZM1002.0 578.5 1000.4 580.2 999.7 583.2 1002.7 589.5 1006.7 592.2 1008.7 592.2 1011.4 590.8 1014.0 587.5 1015.0 582.8 1012.0 580.8 1004.4 578.5ZM793.7 569.8 793.7 570.8 795.4 572.2 798.7 571.8 799.7 570.5 799.0 569.2 797.4 568.5 794.7 568.8ZM913.7 570.2 914.0 573.5 916.0 575.8 923.7 579.5 940.0 583.2 955.4 582.5 962.7 580.8 969.0 577.2 969.4 574.5 970.7 572.8 970.7 570.2 969.4 567.2 970.4 563.5 972.7 561.2 968.0 559.5 957.0 558.2 937.4 557.8 917.7 565.5 914.4 568.5ZM727.7 569.8 728.4 574.2 731.4 576.8 736.7 579.2 747.0 580.8 754.0 582.8 763.4 582.8 772.4 581.8 778.4 580.2 782.7 577.5 783.4 574.2 784.7 572.5 783.4 566.8 784.7 562.8 786.4 561.2 781.7 559.5 771.0 558.2 751.4 557.8 731.7 565.5 729.0 567.5ZM833.0 557.5 828.7 550.2 826.4 548.8 822.7 554.2 820.0 556.8 815.7 559.2 814.7 561.2 816.7 562.5 824.4 561.5 833.0 558.8ZM1018.0 557.8 1015.0 554.5 1012.0 548.8 1010.4 547.5 1008.4 547.5 1006.4 549.2 1004.0 553.5 1001.4 556.2 994.7 559.2 993.0 560.8 997.0 563.2 1001.7 564.2 1016.4 559.8 1018.0 558.8ZM824.0 488.2 823.7 490.8 825.7 494.5 828.0 495.8 830.4 494.8 832.4 491.5 832.4 489.8 829.0 488.2ZM1005.0 486.8 1004.0 488.2 1004.0 490.8 1005.4 495.2 1008.0 499.2 1010.0 499.5 1011.7 498.2 1013.0 495.5 1014.0 489.8 1011.0 487.8ZM727.7 476.8 727.7 479.8 729.0 482.2 735.7 485.5 745.0 485.8 750.0 488.5 755.0 489.8 768.7 489.2 779.0 486.8 783.0 484.2 783.0 482.2 784.7 479.5 783.4 473.8 784.4 470.5 786.4 468.5 782.7 466.8 775.4 465.8 752.7 465.2 734.7 471.2 730.4 473.5ZM913.7 477.2 913.7 479.8 916.7 483.5 924.4 486.8 939.7 490.2 956.4 489.5 964.0 487.5 969.4 483.8 969.4 481.5 970.7 480.2 970.7 477.2 969.4 474.2 970.7 470.2 972.7 468.2 969.0 466.8 959.0 465.5 938.0 464.8 918.0 472.5 914.7 475.2ZM838.0 460.5 834.7 455.5 832.0 454.2 829.0 454.5 825.0 457.2 816.0 466.5 816.0 468.2 818.0 469.5 826.4 469.2 829.0 470.5 831.7 470.5 838.7 465.2ZM1020.7 464.5 1018.4 460.2 1013.7 455.2 1010.7 453.5 1006.4 453.2 1002.0 455.2 990.0 467.2 990.0 468.2 995.4 471.8 999.4 473.2 1004.4 471.5 1011.0 470.8 1019.7 466.5ZM636.0 432.2 626.4 432.2 626.4 602.2 629.0 596.8 631.7 581.5 631.7 578.5 628.7 573.8 628.4 569.8 634.4 561.5 632.7 544.5 632.7 486.2 629.7 482.2 628.4 477.8 630.4 474.2 636.7 468.5 638.4 464.2 638.4 459.2 636.4 450.2 636.7 437.5Z"/>
<path fill-rule="evenodd" fill="#00ff79" d="M1005.7 580.8 1004.0 582.5 1004.0 585.2 1006.0 587.5 1008.7 587.8 1011.0 585.5 1011.0 582.5 1008.4 580.8ZM938.0 580.2 938.7 581.5 940.4 582.2 954.4 581.5 963.0 579.2 966.7 576.5 941.0 574.2 939.0 575.8ZM752.0 579.5 755.0 581.8 766.7 581.5 776.0 579.5 779.4 577.8 780.4 576.5 755.0 574.2 752.7 576.2ZM794.0 569.8 795.0 571.8 798.0 571.8 799.4 570.5 798.0 568.8 795.4 568.8ZM932.0 562.2 932.7 565.2 934.4 567.5 936.4 568.8 940.4 569.8 963.7 568.8 968.4 567.2 967.7 564.5 964.7 561.8 956.0 559.5 937.7 558.8 933.7 560.5ZM746.0 561.8 747.4 566.5 749.7 568.5 754.0 569.8 777.4 568.8 782.4 566.8 782.0 565.2 779.7 562.5 775.0 560.5 767.4 559.2 751.7 558.8ZM829.7 558.5 827.7 556.2 826.4 555.8 823.4 558.2 822.7 559.8 826.7 560.2ZM1014.4 558.5 1012.7 555.8 1010.4 553.5 1009.0 553.2 1005.4 556.2 1002.7 560.5 1004.0 561.8 1007.0 561.8 1012.0 560.5ZM827.0 489.2 827.0 490.8 828.4 491.5 829.4 489.8ZM938.0 487.5 940.0 489.2 953.0 488.8 961.7 486.8 964.7 485.5 966.7 483.5 941.7 481.2 938.7 483.5ZM752.7 483.5 753.7 486.8 756.0 488.5 771.4 487.5 777.7 485.8 780.4 484.2 780.4 483.5 758.4 481.2 755.4 481.2ZM746.0 469.2 747.0 473.2 749.4 475.5 753.0 476.8 776.0 476.2 780.7 475.2 782.4 473.8 781.7 471.8 779.4 469.5 771.0 466.8 752.0 466.2ZM932.0 469.2 933.4 473.5 936.0 475.8 939.0 476.8 962.0 476.2 968.4 474.2 968.0 472.2 965.0 469.2 954.7 466.5 938.7 465.8 936.0 466.5ZM835.7 459.8 831.7 456.8 827.0 458.2 822.0 463.5 820.7 465.8 820.7 467.5 822.4 468.5 831.7 468.5 836.4 466.2 837.0 463.5ZM1018.7 464.8 1013.0 457.8 1009.7 456.2 1006.0 456.2 1003.0 457.5 999.0 461.5 995.7 465.8 995.4 467.8 998.7 471.2 1001.7 471.8 1016.7 467.2 1018.7 465.8ZM633.7 432.2 626.4 432.2 626.4 585.8 628.0 583.5 629.4 578.2 627.7 573.2 627.7 569.8 632.7 562.5 632.7 555.8 630.7 545.2 630.7 485.2 628.4 481.2 627.7 477.5 629.0 474.8 635.7 468.5 637.4 464.2 637.4 459.8 634.7 450.5 634.7 439.2Z"/>
<path fill-rule="evenodd" fill="#00ff49" d="M794.4 569.8 794.4 570.8 795.7 571.8 798.4 571.5 799.0 570.5 797.4 568.8ZM935.0 561.5 935.7 563.8 938.4 565.5 964.4 564.5 960.4 561.8 952.7 560.2 937.7 559.8ZM749.0 561.2 749.4 563.5 752.0 565.5 778.0 564.5 775.0 562.2 766.4 560.2 751.4 559.8ZM749.0 468.5 749.7 471.2 751.7 472.5 778.0 471.8 777.4 470.5 774.7 469.2 767.7 467.5 751.4 467.2ZM935.0 468.5 935.4 470.5 937.7 472.5 964.4 471.5 961.7 469.5 951.4 467.2 938.4 466.8ZM835.4 463.2 832.7 459.5 829.7 459.2 826.0 461.5 823.4 466.2 825.0 467.8 832.0 467.5 835.4 465.5ZM1016.4 465.2 1012.0 459.8 1009.0 458.5 1006.4 458.5 1004.0 459.5 1000.7 462.5 998.7 465.5 998.7 467.8 1001.7 470.5 1004.4 470.5 1015.4 466.8ZM632.0 432.2 626.4 432.2 626.4 573.2 627.4 568.8 631.4 562.5 631.4 556.5 628.0 543.2 628.4 483.8 627.0 477.5 628.4 474.8 634.7 468.8 636.7 463.2 636.0 457.8 633.4 450.5 633.0 438.8Z"/>
<path fill-rule="evenodd" fill="#00ff18" d="M794.4 570.2 795.4 571.5 798.7 570.8 798.7 569.8 797.7 569.2 795.4 569.2ZM938.4 561.2 939.4 562.2 946.4 561.5ZM752.4 561.2 753.4 562.2 760.0 561.5ZM626.4 550.5 626.4 568.2 629.0 564.8 630.0 561.8 629.4 554.8 627.7 551.5ZM752.4 468.8 757.4 469.2 760.7 468.5ZM938.4 468.8 943.4 469.2 946.7 468.5 938.7 468.2ZM826.0 465.2 826.4 466.8 830.7 467.2 833.4 466.2 834.0 464.8 832.4 461.8 829.4 461.5ZM1013.7 465.2 1011.0 461.8 1006.7 460.8 1004.4 461.8 1002.0 464.2 1001.4 467.2 1002.7 468.8 1005.4 469.5 1013.4 466.8ZM630.4 432.2 626.4 432.2 626.4 476.2 633.7 469.2 636.0 463.2 635.7 459.2 632.0 449.8 631.7 440.2Z"/>
<path fill-rule="evenodd" fill="#18ff00" d="M794.7 569.8 794.7 570.8 795.7 571.5 798.4 570.8 798.4 569.8 797.4 569.2ZM626.7 555.5 626.4 564.2 627.4 563.5 628.4 560.5 628.0 557.5ZM829.4 465.2 829.7 465.8 831.4 465.5 831.0 464.5ZM1004.7 465.2 1004.7 466.8 1006.0 467.8 1009.0 467.5 1010.7 466.2 1010.4 464.8 1008.4 463.5 1006.0 463.8ZM628.0 432.2 626.4 432.2 626.4 474.2 633.0 469.2 635.4 463.8 635.0 459.2 631.0 450.5 630.0 438.8Z"/>
<path fill-rule="evenodd" fill="#49ff00" d="M795.0 569.8 795.4 571.2 798.0 570.8 797.7 569.5ZM626.4 436.8 626.4 472.8 627.4 472.8 631.0 470.5 633.7 467.2 634.7 464.5 634.7 460.2 630.0 450.8 628.4 440.2 627.4 437.5Z"/>
<path fill-rule="evenodd" fill="#79ff00" d="M795.0 570.2 795.7 571.2 798.0 570.5 797.4 569.5ZM626.4 446.2 626.4 471.8 627.7 471.8 632.7 467.8 634.4 463.8 634.4 460.8 632.4 455.8Z"/>
<path fill-rule="evenodd" fill="#aaff00" d="M796.4 569.5 795.4 570.5 796.7 571.2 797.7 570.2ZM626.4 451.2 626.4 471.2 629.7 470.2 632.4 467.5 634.0 461.8 631.7 455.8 627.7 451.5Z"/>
<path fill-rule="evenodd" fill="#dbff00" d="M795.7 570.2 796.0 570.8 797.4 570.5 797.0 569.8ZM626.4 452.5 626.4 470.5 627.7 470.5 632.0 467.2 633.4 464.2 633.4 460.5 631.0 455.8 628.7 453.5Z"/>
<path fill-rule="evenodd" fill="#fff300" d="M626.4 453.5 626.4 470.2 629.4 469.2 631.7 466.8 633.0 463.8 633.0 460.8 632.0 458.2 629.7 455.2Z"/>
<path fill-rule="evenodd" fill="#ffc200" d="M626.4 454.5 626.4 469.5 630.0 468.2 631.7 466.2 632.7 461.2 631.4 457.8 628.7 455.2Z"/>
<path fill-rule="evenodd" fill="#ff9200" d="M627.4 455.2 626.4 455.2 626.4 469.2 629.7 467.8 632.4 463.2 631.0 458.2Z"/>
<path fill-rule="evenodd" fill="#ff6100" d="M626.4 455.8 626.4 468.5 627.4 468.5 631.0 465.8 632.0 462.2 630.0 457.5 628.4 456.2Z"/>
<path fill-rule="evenodd" fill="#ff3100" d="M626.4 456.2 626.4 468.2 630.7 465.5 631.4 460.5 629.0 457.2Z"/>
<path fill-rule="evenodd" fill="#ff0000" d="M627.4 456.8 626.4 456.8 626.4 467.8 629.0 466.8 631.0 463.8 630.7 459.8Z"/>
<ellipse cx="655.0" cy="478.4" rx="27.5" ry="10.2" fill="#fff"/>
<ellipse cx="756.5" cy="478.4" rx="27.9" ry="10.2" fill="#fff"/>
<ellipse cx="840.2" cy="478.4" rx="27.2" ry="10.2" fill="#fff"/>
<ellipse cx="942.5" cy="478.4" rx="27.5" ry="10.2" fill="#fff"/>
<ellipse cx="1026.3" cy="478.4" rx="27.2" ry="10.2" fill="#fff"/>
<ellipse cx="655.0" cy="571.3" rx="27.5" ry="10.2" fill="#fff"/>
<ellipse cx="756.5" cy="571.3" rx="27.9" ry="10.2" fill="#fff"/>
<ellipse cx="840.2" cy="571.3" rx="27.2" ry="10.2" fill="#fff"/>
<ellipse cx="942.5" cy="571.3" rx="27.5" ry="10.2" fill="#fff"/>
<ellipse cx="1026.3" cy="571.3" rx="27.2" ry="10.2" fill="#fff"/>
<line x1="154.02" y1="280.40" x2="154.02" y2="288.40" stroke="#000" stroke-width="3"/>
<line x1="247.17" y1="280.40" x2="247.17" y2="288.40" stroke="#000" stroke-width="3"/>
<line x1="340.33" y1="280.40" x2="340.33" y2="288.40" stroke="#000" stroke-width="3"/>
<line x1="433.48" y1="280.40" x2="433.48" y2="288.40" stroke="#000" stroke-width="3"/>
<line x1="70.50" y1="280.40" x2="79.50" y2="280.40" stroke="#000" stroke-width="3"/>
<line x1="70.50" y1="187.55" x2="79.50" y2="187.55" stroke="#000" stroke-width="3"/>
<line x1="70.50" y1="94.70" x2="79.50" y2="94.70" stroke="#000" stroke-width="3"/>
<path d="M79.50 280.40V284.90M98.13 280.40V284.90M116.76 280.40V284.90M135.39 280.40V284.90M172.65 280.40V284.90M191.28 280.40V284.90M209.91 280.40V284.90M228.54 280.40V284.90M265.80 280.40V284.90M284.43 280.40V284.90M303.07 280.40V284.90M321.70 280.40V284.90M358.96 280.40V284.90M377.59 280.40V284.90M396.22 280.40V284.90M414.85 280.40V284.90M452.11 280.40V284.90M470.74 280.40V284.90M489.37 280.40V284.90M508.00 280.40V284.90M75.00 261.83H79.50M75.00 243.26H79.50M75.00 224.69H79.50M75.00 206.12H79.50M75.00 168.98H79.50M75.00 150.41H79.50M75.00 131.84H79.50M75.00 113.27H79.50" stroke="#000" stroke-width="1.5" fill="none"/>
<rect x="79.50" y="94.70" width="428.50" height="185.70" fill="none" stroke="#000" stroke-width="3"/>
<text x="70.5" y="105.2" text-anchor="end" font-size="31">5</text>
<text x="70.5" y="198.0" text-anchor="end" font-size="31">0</text>
<text x="70.5" y="290.9" text-anchor="end" font-size="31">-5</text>
<text x="154.0" y="309.9" text-anchor="middle" font-size="31">-10</text>
<text x="247.2" y="309.9" text-anchor="middle" font-size="31">-5</text>
<text x="340.3" y="309.9" text-anchor="middle" font-size="31">0</text>
<text x="433.5" y="309.9" text-anchor="middle" font-size="31">5</text>
<text x="293.8" y="339.4" text-anchor="middle" font-size="35" font-style="italic">x/D</text>
<text transform="translate(29.5 187.5) rotate(-90)" text-anchor="middle" font-size="35" font-style="italic">y/D</text>
<line x1="699.03" y1="280.40" x2="699.03" y2="288.40" stroke="#000" stroke-width="3"/>
<line x1="792.08" y1="280.40" x2="792.08" y2="288.40" stroke="#000" stroke-width="3"/>
<line x1="885.12" y1="280.40" x2="885.12" y2="288.40" stroke="#000" stroke-width="3"/>
<line x1="978.17" y1="280.40" x2="978.17" y2="288.40" stroke="#000" stroke-width="3"/>
<line x1="615.60" y1="280.40" x2="624.60" y2="280.40" stroke="#000" stroke-width="3"/>
<line x1="615.60" y1="187.55" x2="624.60" y2="187.55" stroke="#000" stroke-width="3"/>
<line x1="615.60" y1="94.70" x2="624.60" y2="94.70" stroke="#000" stroke-width="3"/>
<path d="M624.60 280.40V284.90M643.21 280.40V284.90M661.82 280.40V284.90M680.43 280.40V284.90M717.64 280.40V284.90M736.25 280.40V284.90M754.86 280.40V284.90M773.47 280.40V284.90M810.69 280.40V284.90M829.30 280.40V284.90M847.90 280.40V284.90M866.51 280.40V284.90M903.73 280.40V284.90M922.34 280.40V284.90M940.95 280.40V284.90M959.56 280.40V284.90M996.77 280.40V284.90M1015.38 280.40V284.90M1033.99 280.40V284.90M1052.60 280.40V284.90M620.10 261.83H624.60M620.10 243.26H624.60M620.10 224.69H624.60M620.10 206.12H624.60M620.10 168.98H624.60M620.10 150.41H624.60M620.10 131.84H624.60M620.10 113.27H624.60" stroke="#000" stroke-width="1.5" fill="none"/>
<rect x="624.60" y="94.70" width="428.00" height="185.70" fill="none" stroke="#000" stroke-width="3"/>
<text x="615.6" y="105.2" text-anchor="end" font-size="31">5</text>
<text x="615.6" y="198.0" text-anchor="end" font-size="31">0</text>
<text x="615.6" y="290.9" text-anchor="end" font-size="31">-5</text>
<text x="699.0" y="309.9" text-anchor="middle" font-size="31">-10</text>
<text x="792.1" y="309.9" text-anchor="middle" font-size="31">-5</text>
<text x="885.1" y="309.9" text-anchor="middle" font-size="31">0</text>
<text x="978.2" y="309.9" text-anchor="middle" font-size="31">5</text>
<text x="838.6" y="339.4" text-anchor="middle" font-size="35" font-style="italic">x/D</text>
<text transform="translate(574.6 187.5) rotate(-90)" text-anchor="middle" font-size="35" font-style="italic">y/D</text>
<line x1="155.47" y1="618.00" x2="155.47" y2="626.00" stroke="#000" stroke-width="3"/>
<line x1="248.56" y1="618.00" x2="248.56" y2="626.00" stroke="#000" stroke-width="3"/>
<line x1="341.64" y1="618.00" x2="341.64" y2="626.00" stroke="#000" stroke-width="3"/>
<line x1="434.73" y1="618.00" x2="434.73" y2="626.00" stroke="#000" stroke-width="3"/>
<line x1="72.00" y1="618.00" x2="81.00" y2="618.00" stroke="#000" stroke-width="3"/>
<line x1="72.00" y1="525.00" x2="81.00" y2="525.00" stroke="#000" stroke-width="3"/>
<line x1="72.00" y1="432.00" x2="81.00" y2="432.00" stroke="#000" stroke-width="3"/>
<path d="M81.00 618.00V622.50M99.62 618.00V622.50M118.23 618.00V622.50M136.85 618.00V622.50M174.09 618.00V622.50M192.70 618.00V622.50M211.32 618.00V622.50M229.94 618.00V622.50M267.17 618.00V622.50M285.79 618.00V622.50M304.41 618.00V622.50M323.03 618.00V622.50M360.26 618.00V622.50M378.88 618.00V622.50M397.50 618.00V622.50M416.11 618.00V622.50M453.35 618.00V622.50M471.97 618.00V622.50M490.58 618.00V622.50M509.20 618.00V622.50M76.50 599.40H81.00M76.50 580.80H81.00M76.50 562.20H81.00M76.50 543.60H81.00M76.50 506.40H81.00M76.50 487.80H81.00M76.50 469.20H81.00M76.50 450.60H81.00" stroke="#000" stroke-width="1.5" fill="none"/>
<rect x="81.00" y="432.00" width="428.20" height="186.00" fill="none" stroke="#000" stroke-width="3"/>
<text x="72.0" y="442.5" text-anchor="end" font-size="31">5</text>
<text x="72.0" y="535.5" text-anchor="end" font-size="31">0</text>
<text x="72.0" y="628.5" text-anchor="end" font-size="31">-5</text>
<text x="155.5" y="647.5" text-anchor="middle" font-size="31">-10</text>
<text x="248.6" y="647.5" text-anchor="middle" font-size="31">-5</text>
<text x="341.6" y="647.5" text-anchor="middle" font-size="31">0</text>
<text x="434.7" y="647.5" text-anchor="middle" font-size="31">5</text>
<text x="295.1" y="677.0" text-anchor="middle" font-size="35" font-style="italic">x/D</text>
<text transform="translate(31.0 525.0) rotate(-90)" text-anchor="middle" font-size="35" font-style="italic">y/D</text>
<line x1="700.63" y1="617.70" x2="700.63" y2="625.70" stroke="#000" stroke-width="3"/>
<line x1="793.68" y1="617.70" x2="793.68" y2="625.70" stroke="#000" stroke-width="3"/>
<line x1="886.72" y1="617.70" x2="886.72" y2="625.70" stroke="#000" stroke-width="3"/>
<line x1="979.77" y1="617.70" x2="979.77" y2="625.70" stroke="#000" stroke-width="3"/>
<line x1="617.20" y1="617.70" x2="626.20" y2="617.70" stroke="#000" stroke-width="3"/>
<line x1="617.20" y1="524.85" x2="626.20" y2="524.85" stroke="#000" stroke-width="3"/>
<line x1="617.20" y1="432.00" x2="626.20" y2="432.00" stroke="#000" stroke-width="3"/>
<path d="M626.20 617.70V622.20M644.81 617.70V622.20M663.42 617.70V622.20M682.03 617.70V622.20M719.24 617.70V622.20M737.85 617.70V622.20M756.46 617.70V622.20M775.07 617.70V622.20M812.29 617.70V622.20M830.90 617.70V622.20M849.50 617.70V622.20M868.11 617.70V622.20M905.33 617.70V622.20M923.94 617.70V622.20M942.55 617.70V622.20M961.16 617.70V622.20M998.37 617.70V622.20M1016.98 617.70V622.20M1035.59 617.70V622.20M1054.20 617.70V622.20M621.70 599.13H626.20M621.70 580.56H626.20M621.70 561.99H626.20M621.70 543.42H626.20M621.70 506.28H626.20M621.70 487.71H626.20M621.70 469.14H626.20M621.70 450.57H626.20" stroke="#000" stroke-width="1.5" fill="none"/>
<rect x="626.20" y="432.00" width="428.00" height="185.70" fill="none" stroke="#000" stroke-width="3"/>
<text x="617.2" y="442.5" text-anchor="end" font-size="31">5</text>
<text x="617.2" y="535.4" text-anchor="end" font-size="31">0</text>
<text x="617.2" y="628.2" text-anchor="end" font-size="31">-5</text>
<text x="700.6" y="647.2" text-anchor="middle" font-size="31">-10</text>
<text x="793.7" y="647.2" text-anchor="middle" font-size="31">-5</text>
<text x="886.7" y="647.2" text-anchor="middle" font-size="31">0</text>
<text x="979.8" y="647.2" text-anchor="middle" font-size="31">5</text>
<text x="840.2" y="676.7" text-anchor="middle" font-size="35" font-style="italic">x/D</text>
<text transform="translate(576.2 524.9) rotate(-90)" text-anchor="middle" font-size="35" font-style="italic">y/D</text>
<text x="561.3" y="370.5" text-anchor="middle" font-size="45">(a)</text>
<text x="570.1" y="720" text-anchor="middle" font-size="45">(b)</text>
</svg></body></html>
